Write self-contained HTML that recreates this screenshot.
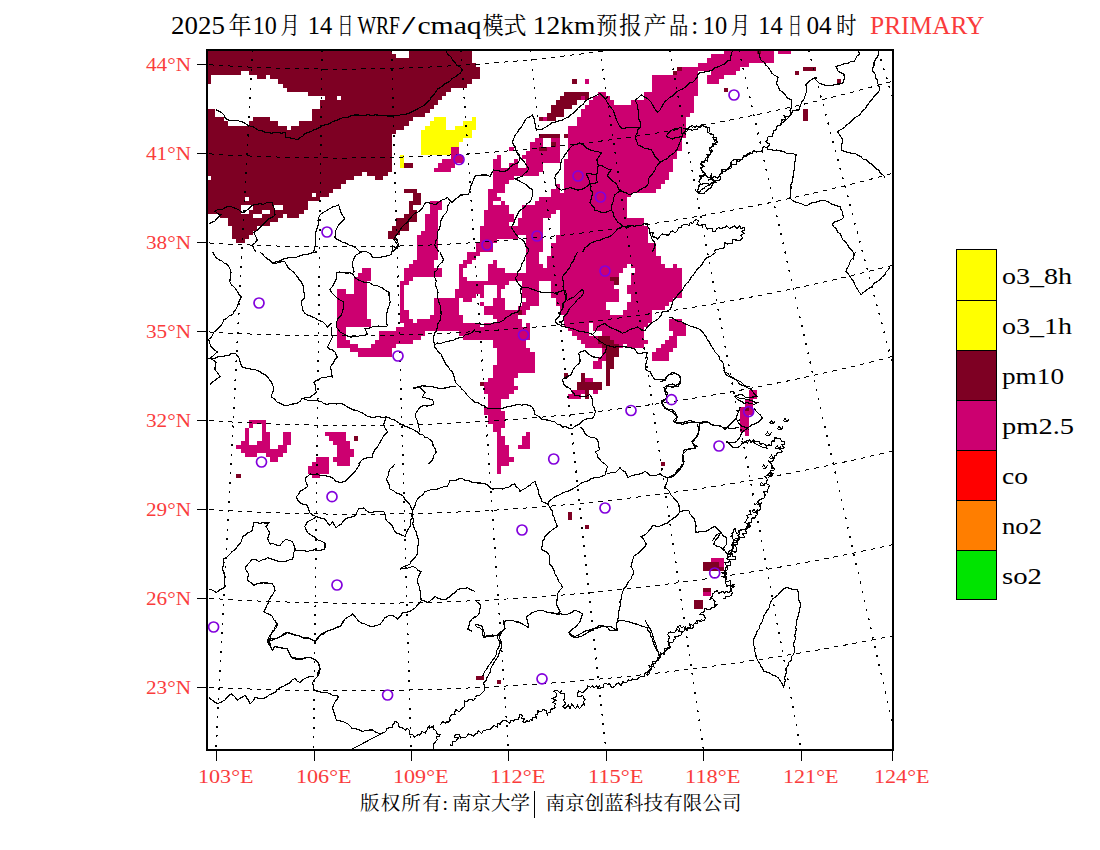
<!DOCTYPE html>
<html lang="zh"><head><meta charset="utf-8"><title>WRF/cmaq PRIMARY</title>
<style>
html,body{margin:0;padding:0;background:#fff}
body{width:1100px;height:850px;overflow:hidden}
svg{display:block}
text{font-family:"Liberation Serif","Noto Serif CJK SC","Noto Sans CJK SC",serif}
.ax{fill:#fa3c3c;font-size:19px}
.lg{fill:#000;font-size:23.5px}
</style></head><body>
<svg width="1100" height="850" viewBox="0 0 1100 850">
<rect width="1100" height="850" fill="#fff"/>
<defs><clipPath id="mapclip"><rect x="207" y="49.5" width="685.5" height="700"/></clipPath></defs>
<g clip-path="url(#mapclip)" shape-rendering="crispEdges">
<path fill="#7e0023" d="M207.0 50.0H391.8V54.2H207.0ZM408.6 50.0H471.6V54.2H408.6ZM757.2 50.0H761.4V54.2H757.2ZM207.0 54.2H396.0V58.4H207.0ZM408.6 54.2H471.6V58.4H408.6ZM207.0 58.4H471.6V62.6H207.0ZM207.0 62.6H475.8V66.8H207.0ZM207.0 66.8H480.0V71.0H207.0ZM677.4 66.8H681.6V71.0H677.4ZM803.4 66.8H816.0V71.0H803.4ZM207.0 71.0H240.6V75.2H207.0ZM249.0 71.0H480.0V75.2H249.0ZM673.2 71.0H677.4V75.2H673.2ZM795.0 71.0H799.2V75.2H795.0ZM207.0 75.2H211.2V79.4H207.0ZM257.4 75.2H265.8V79.4H257.4ZM270.0 75.2H480.0V79.4H270.0ZM207.0 79.4H211.2V83.6H207.0ZM278.4 79.4H471.6V83.6H278.4ZM572.4 79.4H576.6V83.6H572.4ZM837.0 79.4H841.2V83.6H837.0ZM282.6 83.6H467.4V87.8H282.6ZM286.8 87.8H450.6V92.0H286.8ZM723.6 87.8H727.8V92.0H723.6ZM307.8 92.0H446.4V96.2H307.8ZM564.0 92.0H589.2V96.2H564.0ZM324.6 96.2H337.2V100.4H324.6ZM341.4 96.2H442.2V100.4H341.4ZM559.8 96.2H580.8V100.4H559.8ZM585.0 96.2H589.2V100.4H585.0ZM320.4 100.4H438.0V104.6H320.4ZM555.6 100.4H576.6V104.6H555.6ZM320.4 104.6H433.8V108.8H320.4ZM551.4 104.6H572.4V108.8H551.4ZM207.0 108.8H215.4V113.0H207.0ZM312.0 108.8H429.6V113.0H312.0ZM551.4 108.8H564.0V113.0H551.4ZM803.4 108.8H807.6V113.0H803.4ZM207.0 113.0H215.4V117.2H207.0ZM312.0 113.0H425.4V117.2H312.0ZM547.2 113.0H564.0V117.2H547.2ZM803.4 113.0H807.6V117.2H803.4ZM207.0 117.2H223.8V121.4H207.0ZM253.2 117.2H270.0V121.4H253.2ZM312.0 117.2H412.8V121.4H312.0ZM538.8 117.2H543.0V121.4H538.8ZM547.2 117.2H555.6V121.4H547.2ZM803.4 117.2H807.6V121.4H803.4ZM207.0 121.4H228.0V125.6H207.0ZM249.0 121.4H278.4V125.6H249.0ZM299.4 121.4H408.6V125.6H299.4ZM207.0 125.6H286.8V129.8H207.0ZM291.0 125.6H404.4V129.8H291.0ZM207.0 129.8H396.0V134.0H207.0ZM207.0 134.0H391.8V138.2H207.0ZM538.8 134.0H559.8V138.2H538.8ZM564.0 134.0H568.2V138.2H564.0ZM207.0 138.2H391.8V142.4H207.0ZM207.0 142.4H391.8V146.6H207.0ZM551.4 142.4H555.6V146.6H551.4ZM207.0 146.6H391.8V150.8H207.0ZM538.8 146.6H547.2V150.8H538.8ZM207.0 150.8H391.8V155.0H207.0ZM207.0 155.0H391.8V159.2H207.0ZM207.0 159.2H391.8V163.4H207.0ZM207.0 163.4H391.8V167.6H207.0ZM404.4 163.4H412.8V167.6H404.4ZM207.0 167.6H391.8V171.8H207.0ZM207.0 171.8H362.4V176.0H207.0ZM366.6 171.8H387.6V176.0H366.6ZM211.2 176.0H354.0V180.2H211.2ZM375.0 176.0H383.4V180.2H375.0ZM207.0 180.2H345.6V184.4H207.0ZM207.0 184.4H341.4V188.6H207.0ZM207.0 188.6H333.0V192.8H207.0ZM404.4 188.6H417.0V192.8H404.4ZM207.0 192.8H312.0V197.0H207.0ZM316.2 192.8H328.8V197.0H316.2ZM412.8 192.8H421.2V197.0H412.8ZM207.0 197.0H244.8V201.2H207.0ZM249.0 197.0H320.4V201.2H249.0ZM412.8 197.0H421.2V201.2H412.8ZM207.0 201.2H307.8V205.4H207.0ZM408.6 201.2H421.2V205.4H408.6ZM207.0 205.4H240.6V209.6H207.0ZM253.2 205.4H274.2V209.6H253.2ZM282.6 205.4H307.8V209.6H282.6ZM408.6 205.4H412.8V209.6H408.6ZM207.0 209.6H240.6V213.8H207.0ZM249.0 209.6H261.6V213.8H249.0ZM270.0 209.6H303.6V213.8H270.0ZM408.6 209.6H417.0V213.8H408.6ZM219.6 213.8H253.2V218.0H219.6ZM261.6 213.8H282.6V218.0H261.6ZM286.8 213.8H299.4V218.0H286.8ZM404.4 213.8H417.0V218.0H404.4ZM228.0 218.0H278.4V222.2H228.0ZM396.0 218.0H417.0V222.2H396.0ZM228.0 222.2H270.0V226.4H228.0ZM396.0 222.2H408.6V226.4H396.0ZM232.2 226.4H257.4V230.6H232.2ZM391.8 226.4H408.6V230.6H391.8ZM232.2 230.6H253.2V234.8H232.2ZM387.6 230.6H400.2V234.8H387.6ZM232.2 234.8H249.0V239.0H232.2ZM387.6 234.8H396.0V239.0H387.6ZM236.4 239.0H244.8V243.2H236.4ZM610.2 276.8H618.6V281.0H610.2ZM614.4 281.0H618.6V285.2H614.4ZM517.8 310.4H522.0V314.6H517.8ZM597.6 335.6H610.2V339.8H597.6ZM597.6 339.8H614.4V344.0H597.6ZM601.8 344.0H618.6V348.2H601.8ZM606.0 348.2H618.6V352.4H606.0ZM606.0 352.4H618.6V356.6H606.0ZM606.0 356.6H614.4V360.8H606.0ZM606.0 360.8H614.4V365.0H606.0ZM606.0 365.0H614.4V369.2H606.0ZM606.0 369.2H610.2V373.4H606.0ZM564.0 373.4H568.2V377.6H564.0ZM580.8 373.4H585.0V377.6H580.8ZM606.0 373.4H610.2V377.6H606.0ZM580.8 377.6H585.0V381.8H580.8ZM606.0 377.6H610.2V381.8H606.0ZM480.0 381.8H484.2V386.0H480.0ZM576.6 381.8H601.8V386.0H576.6ZM606.0 381.8H610.2V386.0H606.0ZM576.6 386.0H601.8V390.2H576.6ZM585.0 390.2H589.2V394.4H585.0ZM585.0 394.4H589.2V398.6H585.0ZM744.6 407.0H748.8V411.2H744.6ZM354.0 436.4H358.2V440.6H354.0ZM660.6 461.6H664.8V465.8H660.6ZM236.4 474.2H240.6V478.4H236.4ZM568.2 512.0H572.4V516.2H568.2ZM568.2 516.2H572.4V520.4H568.2ZM585.0 524.6H589.2V528.8H585.0ZM702.6 562.4H719.4V566.6H702.6ZM702.6 566.6H723.6V570.8H702.6ZM702.6 587.6H711.0V591.8H702.6ZM694.2 600.2H702.6V604.4H694.2ZM694.2 604.4H702.6V608.6H694.2ZM475.8 675.8H484.2V680.0H475.8ZM496.8 680.0H501.0V684.2H496.8Z"/>
<path fill="#cc0070" d="M723.6 50.0H757.2V54.2H723.6ZM761.4 50.0H774.0V54.2H761.4ZM778.2 50.0H790.8V54.2H778.2ZM711.0 54.2H774.0V58.4H711.0ZM706.8 58.4H774.0V62.6H706.8ZM698.4 62.6H748.8V66.8H698.4ZM681.6 66.8H740.4V71.0H681.6ZM677.4 71.0H698.4V75.2H677.4ZM711.0 71.0H736.2V75.2H711.0ZM652.2 75.2H698.4V79.4H652.2ZM706.8 75.2H723.6V79.4H706.8ZM585.0 79.4H589.2V83.6H585.0ZM652.2 79.4H698.4V83.6H652.2ZM706.8 79.4H719.4V83.6H706.8ZM652.2 83.6H698.4V87.8H652.2ZM652.2 87.8H698.4V92.0H652.2ZM597.6 92.0H606.0V96.2H597.6ZM643.8 92.0H698.4V96.2H643.8ZM580.8 96.2H585.0V100.4H580.8ZM593.4 96.2H610.2V100.4H593.4ZM643.8 96.2H694.2V100.4H643.8ZM589.2 100.4H614.4V104.6H589.2ZM631.2 100.4H694.2V104.6H631.2ZM585.0 104.6H694.2V108.8H585.0ZM580.8 108.8H694.2V113.0H580.8ZM580.8 113.0H690.0V117.2H580.8ZM543.0 117.2H547.2V121.4H543.0ZM576.6 117.2H685.8V121.4H576.6ZM576.6 121.4H685.8V125.6H576.6ZM568.2 125.6H685.8V129.8H568.2ZM568.2 129.8H685.8V134.0H568.2ZM568.2 134.0H685.8V138.2H568.2ZM534.6 138.2H543.0V142.4H534.6ZM551.4 138.2H559.8V142.4H551.4ZM568.2 138.2H681.6V142.4H568.2ZM530.4 142.4H543.0V146.6H530.4ZM555.6 142.4H559.8V146.6H555.6ZM568.2 142.4H681.6V146.6H568.2ZM450.6 146.6H459.0V150.8H450.6ZM509.4 146.6H513.6V150.8H509.4ZM530.4 146.6H538.8V150.8H530.4ZM547.2 146.6H559.8V150.8H547.2ZM568.2 146.6H681.6V150.8H568.2ZM450.6 150.8H459.0V155.0H450.6ZM526.2 150.8H559.8V155.0H526.2ZM568.2 150.8H677.4V155.0H568.2ZM450.6 155.0H463.2V159.2H450.6ZM496.8 155.0H501.0V159.2H496.8ZM522.0 155.0H559.8V159.2H522.0ZM568.2 155.0H677.4V159.2H568.2ZM442.2 159.2H463.2V163.4H442.2ZM492.6 159.2H501.0V163.4H492.6ZM513.6 159.2H517.8V163.4H513.6ZM526.2 159.2H559.8V163.4H526.2ZM564.0 159.2H673.2V163.4H564.0ZM438.0 163.4H454.8V167.6H438.0ZM492.6 163.4H501.0V167.6H492.6ZM509.4 163.4H517.8V167.6H509.4ZM526.2 163.4H543.0V167.6H526.2ZM564.0 163.4H673.2V167.6H564.0ZM433.8 167.6H450.6V171.8H433.8ZM492.6 167.6H543.0V171.8H492.6ZM564.0 167.6H673.2V171.8H564.0ZM492.6 171.8H538.8V176.0H492.6ZM564.0 171.8H669.0V176.0H564.0ZM492.6 176.0H513.6V180.2H492.6ZM564.0 176.0H669.0V180.2H564.0ZM492.6 180.2H509.4V184.4H492.6ZM564.0 180.2H664.8V184.4H564.0ZM492.6 184.4H505.2V188.6H492.6ZM555.6 184.4H559.8V188.6H555.6ZM564.0 184.4H660.6V188.6H564.0ZM488.4 188.6H505.2V192.8H488.4ZM551.4 188.6H559.8V192.8H551.4ZM564.0 188.6H656.4V192.8H564.0ZM488.4 192.8H496.8V197.0H488.4ZM551.4 192.8H631.2V197.0H551.4ZM488.4 197.0H501.0V201.2H488.4ZM538.8 197.0H627.0V201.2H538.8ZM429.6 201.2H442.2V205.4H429.6ZM488.4 201.2H492.6V205.4H488.4ZM501.0 201.2H505.2V205.4H501.0ZM534.6 201.2H627.0V205.4H534.6ZM429.6 205.4H442.2V209.6H429.6ZM488.4 205.4H509.4V209.6H488.4ZM522.0 205.4H627.0V209.6H522.0ZM429.6 209.6H438.0V213.8H429.6ZM484.2 209.6H509.4V213.8H484.2ZM522.0 209.6H555.6V213.8H522.0ZM559.8 209.6H627.0V213.8H559.8ZM425.4 213.8H438.0V218.0H425.4ZM484.2 213.8H513.6V218.0H484.2ZM522.0 213.8H551.4V218.0H522.0ZM559.8 213.8H627.0V218.0H559.8ZM425.4 218.0H438.0V222.2H425.4ZM484.2 218.0H513.6V222.2H484.2ZM517.8 218.0H543.0V222.2H517.8ZM559.8 218.0H643.8V222.2H559.8ZM425.4 222.2H438.0V226.4H425.4ZM484.2 222.2H509.4V226.4H484.2ZM517.8 222.2H543.0V226.4H517.8ZM559.8 222.2H643.8V226.4H559.8ZM425.4 226.4H438.0V230.6H425.4ZM480.0 226.4H543.0V230.6H480.0ZM559.8 226.4H648.0V230.6H559.8ZM421.2 230.6H438.0V234.8H421.2ZM480.0 230.6H543.0V234.8H480.0ZM559.8 230.6H648.0V234.8H559.8ZM417.0 234.8H438.0V239.0H417.0ZM480.0 234.8H517.8V239.0H480.0ZM526.2 234.8H543.0V239.0H526.2ZM555.6 234.8H648.0V239.0H555.6ZM417.0 239.0H438.0V243.2H417.0ZM480.0 239.0H496.8V243.2H480.0ZM526.2 239.0H543.0V243.2H526.2ZM555.6 239.0H648.0V243.2H555.6ZM417.0 243.2H438.0V247.4H417.0ZM475.8 243.2H492.6V247.4H475.8ZM526.2 243.2H543.0V247.4H526.2ZM551.4 243.2H656.4V247.4H551.4ZM417.0 247.4H438.0V251.6H417.0ZM475.8 247.4H492.6V251.6H475.8ZM526.2 247.4H543.0V251.6H526.2ZM551.4 247.4H656.4V251.6H551.4ZM417.0 251.6H438.0V255.8H417.0ZM467.4 251.6H480.0V255.8H467.4ZM526.2 251.6H538.8V255.8H526.2ZM551.4 251.6H656.4V255.8H551.4ZM417.0 255.8H438.0V260.0H417.0ZM467.4 255.8H475.8V260.0H467.4ZM526.2 255.8H538.8V260.0H526.2ZM547.2 255.8H660.6V260.0H547.2ZM412.8 260.0H433.8V264.2H412.8ZM463.2 260.0H471.6V264.2H463.2ZM492.6 260.0H496.8V264.2H492.6ZM526.2 260.0H538.8V264.2H526.2ZM547.2 260.0H660.6V264.2H547.2ZM408.6 264.2H433.8V268.4H408.6ZM459.0 264.2H467.4V268.4H459.0ZM488.4 264.2H496.8V268.4H488.4ZM526.2 264.2H543.0V268.4H526.2ZM547.2 264.2H627.0V268.4H547.2ZM631.2 264.2H664.8V268.4H631.2ZM673.2 264.2H677.4V268.4H673.2ZM362.4 268.4H370.8V272.6H362.4ZM404.4 268.4H442.2V272.6H404.4ZM459.0 268.4H463.2V272.6H459.0ZM488.4 268.4H505.2V272.6H488.4ZM526.2 268.4H622.8V272.6H526.2ZM635.4 268.4H681.6V272.6H635.4ZM358.2 272.6H370.8V276.8H358.2ZM404.4 272.6H442.2V276.8H404.4ZM459.0 272.6H463.2V276.8H459.0ZM488.4 272.6H618.6V276.8H488.4ZM631.2 272.6H681.6V276.8H631.2ZM354.0 276.8H370.8V281.0H354.0ZM404.4 276.8H412.8V281.0H404.4ZM459.0 276.8H467.4V281.0H459.0ZM488.4 276.8H610.2V281.0H488.4ZM631.2 276.8H681.6V281.0H631.2ZM354.0 281.0H366.6V285.2H354.0ZM400.2 281.0H408.6V285.2H400.2ZM459.0 281.0H509.4V285.2H459.0ZM522.0 281.0H538.8V285.2H522.0ZM551.4 281.0H614.4V285.2H551.4ZM631.2 281.0H681.6V285.2H631.2ZM354.0 285.2H366.6V289.4H354.0ZM400.2 285.2H404.4V289.4H400.2ZM459.0 285.2H484.2V289.4H459.0ZM496.8 285.2H505.2V289.4H496.8ZM522.0 285.2H538.8V289.4H522.0ZM551.4 285.2H614.4V289.4H551.4ZM627.0 285.2H681.6V289.4H627.0ZM337.2 289.4H345.6V293.6H337.2ZM354.0 289.4H366.6V293.6H354.0ZM400.2 289.4H404.4V293.6H400.2ZM454.8 289.4H484.2V293.6H454.8ZM496.8 289.4H501.0V293.6H496.8ZM522.0 289.4H538.8V293.6H522.0ZM551.4 289.4H618.6V293.6H551.4ZM627.0 289.4H681.6V293.6H627.0ZM337.2 293.6H366.6V297.8H337.2ZM400.2 293.6H404.4V297.8H400.2ZM454.8 293.6H475.8V297.8H454.8ZM480.0 293.6H484.2V297.8H480.0ZM496.8 293.6H501.0V297.8H496.8ZM522.0 293.6H538.8V297.8H522.0ZM551.4 293.6H618.6V297.8H551.4ZM631.2 293.6H681.6V297.8H631.2ZM337.2 297.8H366.6V302.0H337.2ZM400.2 297.8H404.4V302.0H400.2ZM433.8 297.8H459.0V302.0H433.8ZM463.2 297.8H471.6V302.0H463.2ZM492.6 297.8H505.2V302.0H492.6ZM526.2 297.8H538.8V302.0H526.2ZM555.6 297.8H618.6V302.0H555.6ZM631.2 297.8H673.2V302.0H631.2ZM337.2 302.0H366.6V306.2H337.2ZM400.2 302.0H404.4V306.2H400.2ZM433.8 302.0H459.0V306.2H433.8ZM480.0 302.0H484.2V306.2H480.0ZM492.6 302.0H505.2V306.2H492.6ZM522.0 302.0H538.8V306.2H522.0ZM555.6 302.0H606.0V306.2H555.6ZM627.0 302.0H669.0V306.2H627.0ZM337.2 306.2H366.6V310.4H337.2ZM400.2 306.2H404.4V310.4H400.2ZM433.8 306.2H459.0V310.4H433.8ZM484.2 306.2H505.2V310.4H484.2ZM517.8 306.2H530.4V310.4H517.8ZM559.8 306.2H606.0V310.4H559.8ZM627.0 306.2H664.8V310.4H627.0ZM337.2 310.4H366.6V314.6H337.2ZM400.2 310.4H408.6V314.6H400.2ZM433.8 310.4H459.0V314.6H433.8ZM484.2 310.4H517.8V314.6H484.2ZM522.0 310.4H526.2V314.6H522.0ZM559.8 310.4H610.2V314.6H559.8ZM622.8 310.4H652.2V314.6H622.8ZM337.2 314.6H366.6V318.8H337.2ZM400.2 314.6H408.6V318.8H400.2ZM429.6 314.6H463.2V318.8H429.6ZM492.6 314.6H517.8V318.8H492.6ZM564.0 314.6H652.2V318.8H564.0ZM337.2 318.8H370.8V323.0H337.2ZM400.2 318.8H412.8V323.0H400.2ZM417.0 318.8H463.2V323.0H417.0ZM496.8 318.8H522.0V323.0H496.8ZM564.0 318.8H652.2V323.0H564.0ZM669.0 318.8H681.6V323.0H669.0ZM337.2 323.0H370.8V327.2H337.2ZM404.4 323.0H480.0V327.2H404.4ZM484.2 323.0H522.0V327.2H484.2ZM526.2 323.0H530.4V327.2H526.2ZM564.0 323.0H589.2V327.2H564.0ZM593.4 323.0H648.0V327.2H593.4ZM669.0 323.0H685.8V327.2H669.0ZM337.2 327.2H345.6V331.4H337.2ZM396.0 327.2H530.4V331.4H396.0ZM568.2 327.2H589.2V331.4H568.2ZM593.4 327.2H643.8V331.4H593.4ZM669.0 327.2H685.8V331.4H669.0ZM337.2 331.4H345.6V335.6H337.2ZM379.2 331.4H425.4V335.6H379.2ZM459.0 331.4H530.4V335.6H459.0ZM572.4 331.4H589.2V335.6H572.4ZM601.8 331.4H643.8V335.6H601.8ZM673.2 331.4H685.8V335.6H673.2ZM337.2 335.6H345.6V339.8H337.2ZM379.2 335.6H421.2V339.8H379.2ZM463.2 335.6H530.4V339.8H463.2ZM576.6 335.6H597.6V339.8H576.6ZM610.2 335.6H643.8V339.8H610.2ZM669.0 335.6H677.4V339.8H669.0ZM337.2 339.8H349.8V344.0H337.2ZM375.0 339.8H412.8V344.0H375.0ZM492.6 339.8H526.2V344.0H492.6ZM580.8 339.8H597.6V344.0H580.8ZM614.4 339.8H648.0V344.0H614.4ZM664.8 339.8H677.4V344.0H664.8ZM337.2 344.0H358.2V348.2H337.2ZM370.8 344.0H396.0V348.2H370.8ZM492.6 344.0H526.2V348.2H492.6ZM585.0 344.0H601.8V348.2H585.0ZM618.6 344.0H622.8V348.2H618.6ZM627.0 344.0H643.8V348.2H627.0ZM660.6 344.0H677.4V348.2H660.6ZM349.8 348.2H391.8V352.4H349.8ZM496.8 348.2H530.4V352.4H496.8ZM601.8 348.2H606.0V352.4H601.8ZM656.4 348.2H673.2V352.4H656.4ZM358.2 352.4H391.8V356.6H358.2ZM496.8 352.4H534.6V356.6H496.8ZM601.8 352.4H606.0V356.6H601.8ZM652.2 352.4H669.0V356.6H652.2ZM496.8 356.6H534.6V360.8H496.8ZM597.6 356.6H606.0V360.8H597.6ZM652.2 356.6H669.0V360.8H652.2ZM496.8 360.8H534.6V365.0H496.8ZM593.4 360.8H601.8V365.0H593.4ZM492.6 365.0H534.6V369.2H492.6ZM593.4 365.0H601.8V369.2H593.4ZM492.6 369.2H534.6V373.4H492.6ZM492.6 373.4H517.8V377.6H492.6ZM488.4 377.6H513.6V381.8H488.4ZM585.0 377.6H593.4V381.8H585.0ZM484.2 381.8H513.6V386.0H484.2ZM484.2 386.0H517.8V390.2H484.2ZM484.2 390.2H513.6V394.4H484.2ZM572.4 390.2H585.0V394.4H572.4ZM593.4 390.2H597.6V394.4H593.4ZM748.8 390.2H757.2V394.4H748.8ZM488.4 394.4H509.4V398.6H488.4ZM568.2 394.4H580.8V398.6H568.2ZM748.8 394.4H757.2V398.6H748.8ZM488.4 398.6H501.0V402.8H488.4ZM744.6 398.6H753.0V402.8H744.6ZM488.4 402.8H501.0V407.0H488.4ZM744.6 402.8H753.0V407.0H744.6ZM484.2 407.0H501.0V411.2H484.2ZM740.4 407.0H744.6V411.2H740.4ZM748.8 407.0H753.0V411.2H748.8ZM484.2 411.2H505.2V415.4H484.2ZM740.4 411.2H753.0V415.4H740.4ZM488.4 415.4H505.2V419.6H488.4ZM740.4 415.4H748.8V419.6H740.4ZM249.0 419.6H265.8V423.8H249.0ZM488.4 419.6H505.2V423.8H488.4ZM740.4 419.6H748.8V423.8H740.4ZM249.0 423.8H253.2V428.0H249.0ZM261.6 423.8H265.8V428.0H261.6ZM492.6 423.8H505.2V428.0H492.6ZM740.4 423.8H748.8V428.0H740.4ZM244.8 428.0H249.0V432.2H244.8ZM261.6 428.0H265.8V432.2H261.6ZM492.6 428.0H501.0V432.2H492.6ZM740.4 428.0H748.8V432.2H740.4ZM244.8 432.2H249.0V436.4H244.8ZM261.6 432.2H270.0V436.4H261.6ZM282.6 432.2H291.0V436.4H282.6ZM324.6 432.2H345.6V436.4H324.6ZM496.8 432.2H501.0V436.4H496.8ZM526.2 432.2H530.4V436.4H526.2ZM744.6 432.2H748.8V436.4H744.6ZM244.8 436.4H249.0V440.6H244.8ZM261.6 436.4H270.0V440.6H261.6ZM282.6 436.4H291.0V440.6H282.6ZM328.8 436.4H345.6V440.6H328.8ZM496.8 436.4H505.2V440.6H496.8ZM522.0 436.4H530.4V440.6H522.0ZM240.6 440.6H249.0V444.8H240.6ZM257.4 440.6H270.0V444.8H257.4ZM282.6 440.6H291.0V444.8H282.6ZM333.0 440.6H349.8V444.8H333.0ZM496.8 440.6H505.2V444.8H496.8ZM522.0 440.6H530.4V444.8H522.0ZM236.4 444.8H270.0V449.0H236.4ZM278.4 444.8H286.8V449.0H278.4ZM337.2 444.8H349.8V449.0H337.2ZM496.8 444.8H509.4V449.0H496.8ZM517.8 444.8H530.4V449.0H517.8ZM240.6 449.0H286.8V453.2H240.6ZM337.2 449.0H354.0V453.2H337.2ZM496.8 449.0H509.4V453.2H496.8ZM244.8 453.2H257.4V457.4H244.8ZM265.8 453.2H282.6V457.4H265.8ZM337.2 453.2H354.0V457.4H337.2ZM496.8 453.2H509.4V457.4H496.8ZM270.0 457.4H278.4V461.6H270.0ZM316.2 457.4H328.8V461.6H316.2ZM333.0 457.4H349.8V461.6H333.0ZM496.8 457.4H513.6V461.6H496.8ZM312.0 461.6H328.8V465.8H312.0ZM337.2 461.6H349.8V465.8H337.2ZM496.8 461.6H509.4V465.8H496.8ZM307.8 465.8H328.8V470.0H307.8ZM496.8 465.8H501.0V470.0H496.8ZM307.8 470.0H328.8V474.2H307.8ZM496.8 470.0H501.0V474.2H496.8ZM312.0 474.2H320.4V478.4H312.0ZM711.0 558.2H723.6V562.4H711.0ZM719.4 562.4H723.6V566.6H719.4ZM702.6 591.8H711.0V596.0H702.6Z"/>
<path fill="#ffff00" d="M433.8 117.2H446.4V121.4H433.8ZM471.6 117.2H475.8V121.4H471.6ZM429.6 121.4H446.4V125.6H429.6ZM463.2 121.4H475.8V125.6H463.2ZM425.4 125.6H446.4V129.8H425.4ZM454.8 125.6H475.8V129.8H454.8ZM421.2 129.8H471.6V134.0H421.2ZM421.2 134.0H471.6V138.2H421.2ZM421.2 138.2H463.2V142.4H421.2ZM421.2 142.4H459.0V146.6H421.2ZM421.2 146.6H450.6V150.8H421.2ZM421.2 150.8H450.6V155.0H421.2ZM400.2 155.0H404.4V159.2H400.2ZM400.2 159.2H404.4V163.4H400.2ZM400.2 163.4H404.4V167.6H400.2Z"/>
</g>
<g clip-path="url(#mapclip)" fill="none" stroke="#000" shape-rendering="crispEdges">
<path d="M216.2 110.0 L221.3 112.4 L223.8 114.6 L225.2 117.7 L227.7 119.9 L230.6 120.4 L233.8 120.4 L236.9 120.2 L240.0 121.3 L243.7 122.3 L246.7 124.5 L250.1 126.1 L253.3 126.9 L256.0 128.6 L258.8 130.5 L262.2 130.7 L265.1 132.4 L268.3 132.7 L271.7 133.2 L275.0 132.6 L278.3 132.3 L281.7 133.3 L285.0 132.3 L286.1 137.5 L290.1 138.0 L293.9 138.6 L297.5 139.8 L299.8 137.7 L302.8 136.2 L304.9 133.6 L308.1 132.6 L311.1 131.5 L313.9 129.8 L317.0 128.8 L319.9 127.3 L322.6 125.6 L325.5 124.6 L328.7 124.0 L331.4 122.4 L334.2 121.0 L337.2 120.1 L340.0 118.7 L342.9 117.7 L346.1 117.7 L349.1 116.8 L351.9 115.4 L355.0 115.0 L358.3 115.0 L361.7 115.6 L365.0 115.4 L368.3 114.7 L371.7 115.8 L375.0 114.8 L378.0 115.1 L381.0 115.9 L384.0 115.2 L387.0 116.0 L390.0 116.0 L393.5 116.0 L397.1 115.7 L400.5 114.9 L404.1 114.8 L407.5 113.7 L410.8 112.5 L413.8 110.8 L416.9 109.2 L420.0 107.5 L422.8 106.1 L425.4 104.3 L427.5 101.8 L430.0 100.1 L431.3 96.8 L434.0 94.6 L435.8 91.7 L437.7 88.9 L441.1 87.1 L444.0 84.3 L447.5 82.5 L450.2 81.0 L452.1 78.4 L455.0 77.2 L457.2 75.1 L459.9 73.6 L462.3 69.9 L460.3 67.2 L457.1 65.4 L454.9 62.6 L452.4 59.7 L450.5 56.3 L447.3 53.9 L446.2 50.5" stroke-width="1.15"/>
<path d="M313.8 252.0 L314.2 248.9 L315.1 245.8 L315.3 242.6 L315.8 239.5 L315.2 236.2 L315.8 233.1 L316.2 230.0 L317.6 227.1 L318.5 224.2 L318.0 220.9 L318.7 217.9 L319.9 215.0 L322.3 213.0 L325.0 211.6 L327.5 210.0 L330.2 208.4 L332.8 206.8 L335.9 206.1 L338.7 204.9 L339.9 208.8 L341.0 212.6 L342.9 215.8 L345.0 218.8 L342.4 221.1 L339.8 223.6 L337.7 226.4 L336.0 229.9 L335.4 233.7 L334.8 237.5 L337.2 239.6 L340.1 240.7 L342.5 242.5 L346.1 243.2 L349.1 245.2 L352.6 246.1 L355.4 247.6 L357.8 249.7 L360.1 251.9" stroke-width="1.15"/>
<path d="M208.8 223.8 L211.8 222.3 L214.9 221.1 L217.6 217.6 L221.1 214.9 L217.8 213.7 L215.0 211.3 L217.8 209.5 L221.2 209.8 L224.1 208.4 L226.8 206.7 L230.0 206.1 L232.9 207.3 L235.6 208.6 L238.5 209.5 L240.8 211.8 L243.7 212.7 L246.2 210.6 L248.7 208.7 L250.9 206.3 L253.6 204.8 L256.8 204.3 L260.0 203.8 L263.2 204.3 L266.2 202.8 L269.3 202.2 L272.5 202.7 L273.1 205.6 L274.3 208.6 L274.3 211.9 L275.2 215.0 L272.5 217.0 L269.5 218.4 L267.1 220.5 L264.8 222.8 L262.6 225.1 L259.7 227.7 L257.0 230.4 L253.7 232.4 L255.6 236.3 L257.4 240.1 L255.2 242.7 L252.6 245.1 L253.9 248.7 L256.0 252.1" stroke-width="1.15"/>
<path d="M392.5 252.0 L395.5 248.8 L397.6 245.1 L396.0 242.2 L393.8 239.9 L395.5 236.4 L397.9 233.3 L399.9 230.0 L402.0 227.0 L404.5 224.5 L407.4 222.4 L408.8 219.8 L411.1 217.7 L412.7 215.1 L415.0 213.3 L417.9 212.2 L420.1 210.2 L422.6 208.0 L424.0 204.9 L426.1 202.4 L429.3 202.9 L432.2 203.7 L435.0 204.9 L438.2 202.7 L441.4 200.2 L444.6 199.3 L447.5 197.5 L449.8 200.2 L452.4 202.6 L454.5 199.5 L457.7 197.7 L460.1 195.1 L464.4 194.8 L468.8 193.9 L470.0 190.0 L470.8 186.1 L472.6 182.5 L473.5 179.3 L475.1 176.3" stroke-width="1.15"/>
<path d="M450.0 202.5 L448.0 205.6 L447.7 209.2 L446.3 212.5 L443.6 215.5 L441.8 219.0 L440.1 222.6 L440.1 225.6 L439.6 228.6 L437.9 231.4 L437.5 234.4 L437.7 237.5 L435.8 241.1 L434.8 244.9 L436.7 248.6 L438.8 252.0" stroke-width="1.15"/>
<path d="M360.0 252.0 L362.7 251.1 L366.9 252.0 L370.8 253.8 L372.0 257.0 L378.0 257.7 L381.6 257.0 L385.3 256.4 L391.1 254.7 L392.4 250.5 L392.7 246.0 L394.8 247.3 L396.9 248.1 L399.0 245.2 L396.8 240.2 L394.7 239.4" stroke-width="1.15"/>
<path d="M475.0 176.2 L478.7 175.2 L482.5 175.0 L486.3 175.0 L490.0 176.4 L491.7 173.0 L493.7 170.0 L497.5 170.5 L501.2 171.5 L505.0 171.2 L507.9 169.7 L510.0 167.1 L512.5 165.0 L515.6 163.8 L518.7 162.3 L520.0 157.5 L517.7 154.0 L516.0 150.1 L514.8 146.0 L512.4 142.6 L513.7 138.7 L515.1 135.0 L517.2 132.6 L519.0 129.8 L521.3 127.5 L523.2 123.8 L525.1 120.1 L527.2 117.8 L530.1 116.7 L532.4 114.9 L534.1 118.6 L534.9 122.5 L535.6 126.3 L536.2 130.0 L539.3 129.6 L542.3 129.0 L545.0 127.5 L547.6 126.0 L550.0 124.2 L552.5 122.5 L555.9 122.0 L559.1 120.8 L562.5 120.0 L565.0 118.3 L567.9 117.3 L570.1 115.1 L572.9 113.4 L575.5 111.4 L577.4 108.7 L580.1 106.3 L583.0 104.3 L585.1 101.4 L588.5 98.9 L592.4 97.3 L596.2 95.5 L599.9 93.6 L602.8 96.0 L605.1 98.6 L606.9 101.8 L608.8 104.8 L611.1 107.6 L613.6 111.0 L614.9 115.0 L616.0 118.8 L617.7 122.4 L619.5 126.0 L622.3 128.9 L626.8 127.7 L631.3 127.7 L635.6 127.3 L640.0 127.5" stroke-width="1.15"/>
<path d="M640.0 127.5 L640.5 124.3 L639.9 121.2 L638.5 118.2 L638.7 115.0 L638.4 111.7 L637.7 108.4 L637.4 105.0 L634.9 100.0 L638.3 97.8 L641.1 94.8 L644.3 96.9 L647.5 98.7 L650.6 101.4 L652.6 104.9 L654.0 107.6 L655.8 110.0 L657.7 112.4 L659.8 110.4 L661.2 107.8 L662.7 105.1 L664.6 102.1 L667.2 99.7 L669.8 97.3 L672.8 96.0 L674.8 93.5 L677.1 91.4 L680.0 90.0 L682.9 88.9 L685.3 87.1 L687.4 84.9 L689.7 82.9 L692.9 82.2 L695.0 80.0 L696.9 77.7 L697.8 74.6 L699.8 72.4 L703.4 72.4 L706.7 71.5 L710.0 71.0 L712.9 69.9 L715.0 67.6 L718.9 66.7 L722.4 64.8 L725.3 63.8 L727.1 61.1 L730.1 60.1 L730.8 56.8 L731.4 53.6 L732.5 50.5" stroke-width="1.15"/>
<path d="M640.0 127.5 L637.7 130.1 L637.0 133.5 L635.2 136.3 L635.8 139.2 L637.1 142.0 L637.7 144.9 L641.5 146.4 L645.1 148.6 L648.2 148.9 L651.3 149.9 L653.4 153.0 L654.9 156.3 L657.8 159.2 L660.0 162.5 L663.5 160.2 L667.5 158.7 L669.5 156.1 L672.2 154.3 L674.9 152.3 L677.0 149.3 L678.4 145.9 L679.9 142.4 L681.2 138.7 L682.7 135.1 L681.3 131.4 L681.4 127.5 L678.1 128.2 L675.0 128.8 L671.6 130.2 L668.8 132.5 L666.2 136.2 L669.3 137.8 L672.4 139.0 L675.3 137.7 L678.5 137.6 L681.3 136.3" stroke-width="1.15"/>
<path d="M561.2 160.0 L563.3 157.6 L564.9 154.9 L566.7 152.4 L568.6 149.9 L570.8 147.1 L573.6 144.9 L577.0 144.4 L580.0 142.9 L583.5 145.1 L586.4 147.8 L589.1 149.5 L592.1 150.6 L595.2 151.3 L598.4 151.7 L601.3 152.9 L599.3 156.4 L596.8 159.5 L598.2 165.0 L597.7 168.3 L597.5 171.7 L596.5 175.0 L596.4 178.8 L597.5 182.5 L593.8 183.5 L590.0 183.5 L587.7 185.9 L585.0 187.6 L581.5 189.5 L577.5 190.1 L573.7 188.8 L570.0 187.5 L567.2 188.8 L564.2 189.2 L561.3 190.2 L558.5 188.4 L556.1 186.4 L555.5 181.9 L554.8 177.5 L556.0 174.6 L558.1 172.3 L559.9 169.9 L560.6 166.7 L560.9 163.3 L561.4 160.0" stroke-width="1.15"/>
<path d="M596.8 175.0 L593.3 174.3 L589.8 173.8 L586.3 173.6 L587.7 176.8 L589.0 179.8 L589.8 183.1" stroke-width="1.15"/>
<path d="M598.0 165.0 L601.7 165.7 L605.0 167.6 L608.0 169.0 L611.3 169.8 L608.9 172.8 L607.3 176.2 L609.9 178.5 L612.3 180.7 L614.9 182.6 L617.2 185.1 L618.3 188.4 L620.0 191.3 L617.2 192.7 L614.9 194.9 L613.7 197.9 L613.4 201.0 L612.1 203.8 L611.7 206.9 L611.2 210.0 L607.6 211.7 L603.8 212.7 L600.7 212.2 L597.9 211.0 L594.9 210.2 L593.8 207.2 L591.7 204.9 L590.1 202.5 L591.0 199.2 L591.9 195.9 L592.5 192.5 L590.7 189.8 L591.0 186.5 L589.6 183.7" stroke-width="1.15"/>
<path d="M512.5 142.5 L514.0 145.5 L515.4 148.5 L516.8 151.6 L519.1 154.2 L519.9 157.6 L522.5 160.1 L524.9 162.7 L526.9 165.7 L528.7 168.8 L527.0 171.6 L524.3 173.5 L522.3 176.1 L518.8 177.5 L515.0 178.8 L518.3 180.4 L521.5 182.3 L524.9 183.9 L527.4 186.0 L529.9 188.1 L532.6 189.8 L532.6 193.4 L532.1 196.7 L531.1 200.0 L529.2 202.2 L526.7 203.9 L525.0 206.6 L522.7 208.5 L520.1 210.1 L518.1 213.2 L516.4 216.5 L514.9 220.0 L513.4 223.9 L511.2 227.5 L513.0 230.0 L514.6 232.5 L516.4 234.9 L518.8 238.0 L522.4 239.6 L524.9 242.7 L525.6 245.9 L528.2 248.5 L528.8 252.0" stroke-width="1.15"/>
<path d="M660.0 162.5 L657.9 164.7 L656.0 167.1 L655.0 170.0 L652.8 173.4 L650.1 176.3 L648.5 179.0 L648.8 182.2 L647.5 185.0 L645.3 187.1 L642.5 188.3 L639.9 189.8 L636.9 192.2 L633.1 192.9 L630.0 195.0 L625.1 192.3 L620.0 191.2" stroke-width="1.15"/>
<path d="M611.2 210.0 L613.2 212.9 L613.8 216.5 L616.0 219.4 L617.7 222.4 L620.5 223.7 L622.5 226.2 L625.6 226.2 L628.8 225.9 L631.9 225.7 L635.0 226.2 L638.1 225.3 L641.4 225.5 L644.2 223.6 L647.5 223.9 L647.8 226.8 L649.8 229.4 L649.8 232.6 L650.9 235.8 L651.9 239.0 L654.1 241.8 L655.1 245.0 L653.9 248.6 L652.3 251.9" stroke-width="1.15"/>
<path d="M682.5 133.8 L684.5 132.4 L685.4 129.9 L687.4 128.7 L689.2 127.4 L690.9 126.0 L692.8 125.9 L695.1 128.0 L696.7 125.7 L699.9 127.8 L701.1 124.7 L703.4 125.0 L704.3 126.9 L706.7 126.5 L707.6 128.6 L707.5 131.9 L709.3 133.2 L711.1 134.5 L713.6 135.1 L712.8 137.6 L713.5 139.3 L716.2 140.0 L714.4 140.9 L716.0 144.2 L712.3 143.9 L712.4 146.1 L710.9 147.3 L709.7 149.1 L710.3 151.7 L710.4 154.1 L707.0 154.7 L708.0 157.5 L705.6 158.1 L705.1 159.9 L704.3 161.5 L702.2 162.3 L699.9 164.0 L703.0 166.4 L700.8 168.0 L701.5 170.0 L702.9 172.1 L705.1 173.6 L703.2 175.7 L701.2 176.2 L698.8 175.4 L700.8 177.5 L703.8 176.2 L705.4 174.6 L707.8 177.5 L709.8 177.7 L711.2 174.9 L711.4 177.7 L709.9 179.2 L708.0 180.4 L709.5 179.8 L711.5 179.1 L713.1 180.3 L714.8 180.9 L716.2 182.6 L713.3 182.9 L712.1 185.0 L711.3 187.6 L709.8 188.8 L708.0 189.2 L706.7 190.7 L705.2 191.8 L704.2 193.8 L702.1 193.8 L699.7 193.2 L697.3 192.9 L697.5 190.0 L698.7 188.3 L699.2 186.4 L700.1 184.4 L701.9 184.2 L703.7 183.6 L705.6 183.8 L707.5 183.7 L710.3 184.5 L711.6 183.0 L713.3 182.0 L712.7 177.6 L714.3 176.5 L717.7 178.2 L719.1 176.7 L720.2 174.6 L722.2 173.4 L721.7 169.9 L724.9 169.9 L727.8 169.7 L728.7 167.9 L730.1 166.4 L730.5 164.2 L731.3 161.7 L732.9 160.2 L734.9 159.5 L737.5 160.0 L739.5 159.8 L741.7 159.9 L742.7 158.1 L743.9 156.4 L746.3 156.6 L747.8 154.4 L750.0 153.8" stroke-width="1.15"/>
<path d="M650.0 232.5 L653.2 232.6 L652.4 236.8 L655.3 237.2 L657.5 239.0 L659.2 237.2 L660.8 235.1 L662.6 233.8 L664.9 234.7 L667.2 235.1 L669.2 234.9 L670.5 231.7 L672.5 231.0 L675.0 232.5 L676.8 231.6 L677.7 229.6 L678.7 227.7 L681.3 227.9 L682.0 225.7 L683.9 224.5 L686.2 224.2 L689.1 225.4 L690.1 222.7 L692.8 223.4 L694.1 220.7 L696.1 219.6 L698.5 220.9 L697.0 224.7 L699.8 225.2 L702.4 225.0 L705.0 224.5 L706.3 227.5 L707.7 229.0 L709.9 228.6 L712.0 228.7 L712.9 231.2 L714.8 231.8 L716.5 229.3 L718.2 227.7 L720.7 228.3 L722.9 227.9 L725.1 227.7 L726.8 225.8 L729.2 228.4 L731.1 227.9 L733.0 226.5 L734.9 225.8 L736.9 228.8 L739.5 226.0 L741.3 228.7 L743.8 227.1 L744.8 229.7 L742.0 231.3 L744.0 233.6 L740.6 235.2 L742.5 237.5 L741.5 239.7 L739.8 240.4 L737.6 240.1 L735.2 240.0 L732.7 239.5 L732.1 243.8 L729.7 243.5 L727.6 244.1 L724.6 242.7 L724.5 247.2 L722.8 248.5 L720.3 248.1 L718.7 249.4 L715.4 249.1 L714.6 251.6" stroke-width="1.15"/>
<path d="M622.5 226.2 L619.8 228.0 L617.0 229.8 L614.9 232.3 L612.7 234.4 L610.3 236.3 L607.4 237.3 L603.6 238.4 L600.1 240.2 L597.0 240.6 L594.2 241.9 L591.3 242.6 L588.3 245.2 L585.1 247.6 L582.7 252.1" stroke-width="1.15"/>
<path d="M758.0 51.0 L759.3 54.4 L760.1 58.0 L761.4 60.8 L764.5 62.3 L765.8 65.1 L768.4 67.4 L770.2 70.2 L771.9 73.1 L774.7 75.4 L778.0 77.0 L777.7 80.2 L776.0 83.0 L778.2 86.4 L779.8 90.1 L783.3 92.7 L786.0 96.0 L788.1 98.5 L791.1 99.8 L791.6 103.0 L791.9 106.0 L789.9 111.0" stroke-width="1.15"/>
<path d="M790.0 111.0 L790.8 113.7 L789.9 115.2 L788.7 116.7 L784.3 115.9 L786.0 119.1 L783.7 119.8 L781.1 120.1 L781.5 123.5 L780.3 125.3 L777.5 125.5 L776.4 127.3 L776.5 129.9 L773.6 130.2 L773.9 132.9 L772.3 134.2 L773.0 136.8 L769.0 136.3 L767.3 137.4 L767.8 139.9 L765.6 141.7 L769.8 144.3 L768.5 146.2 L767.0 148.0 L764.4 146.7 L762.6 147.5 L762.0 150.8 L760.1 151.3 L758.1 151.8 L756.0 152.0 L753.5 150.5 L752.1 153.4 L749.4 152.7 L747.5 154.0 L745.8 155.6 L743.8 155.9 L742.7 157.6 L742.0 159.7 L740.1 160.2 L738.9 161.6 L736.2 160.9 L736.6 164.7 L734.2 164.4 L731.8 164.0 L731.7 167.0 L730.7 168.7 L728.4 168.6 L726.3 169.3 L725.6 171.6 L721.9 170.9 L721.6 173.6 L719.1 174.2 L720.9 177.6 L720.7 179.6 L718.5 180.3 L716.0 181.0 L713.5 181.1 L712.1 183.2 L710.2 184.3 L708.8 185.6 L706.6 186.1 L705.0 187.1 L703.8 188.7 L701.2 189.5 L700.1 191.8 L699.4 194.4 L699.4 191.6 L696.8 191.2 L698.3 188.6 L698.8 185.9 L700.8 184.4 L699.1 181.5 L700.1 179.6 L701.7 177.9 L701.1 175.5 L705.1 174.6 L704.1 172.0 L701.8 170.5 L700.9 168.1 L703.7 166.4 L701.7 164.0 L701.6 161.9 L704.3 162.2 L705.4 160.6 L707.8 161.0 L707.7 157.5 L708.6 156.0 L710.8 154.5 L710.5 152.2 L712.7 151.6 L710.2 147.8 L712.2 147.0 L713.5 145.7 L713.3 143.5 L717.5 142.7 L716.1 140.0 L716.3 137.2 L713.0 137.4 L713.6 134.4 L710.9 134.0 L708.8 132.9 L709.6 129.7 L709.0 127.5 L705.5 127.3 L704.1 126.2 L702.1 125.8 L699.9 126.4 L698.3 127.6 L696.8 129.5 L694.2 129.4 L692.2 130.5 L689.9 129.2 L688.0 129.8 L686.3 131.9 L684.2 131.7" stroke-width="1.15"/>
<path d="M767.0 149.0 L770.3 149.2 L773.5 150.3 L776.8 150.0 L780.0 150.9 L783.3 151.3 L786.3 153.1 L789.6 153.5 L793.0 153.5 L796.0 154.8 L795.8 158.0 L795.1 161.0 L794.6 164.0 L795.0 167.1 L794.2 170.0 L793.2 172.9 L793.1 176.0 L792.8 179.1 L792.3 182.1 L790.8 184.9 L791.1 188.0 L790.6 191.3 L790.6 194.7 L790.0 198.0 L792.7 200.5 L795.9 202.2 L799.4 203.1 L802.8 204.2 L806.0 206.1 L809.2 204.2 L812.4 202.6 L816.1 202.2 L820.0 200.9 L824.0 200.1 L828.1 201.9 L831.9 204.2 L836.0 205.4 L840.1 206.8" stroke-width="1.15"/>
<path d="M858.5 51.0 L859.7 53.9 L857.0 56.0 L854.4 61.0 L850.8 61.4 L847.7 63.6 L844.0 63.9 L840.1 65.4 L836.0 66.5 L838.2 71.4 L841.2 72.7 L844.0 74.5 L844.3 79.0 L842.7 83.1 L840.0 84.0 L836.9 84.0 L834.0 84.8 L831.0 85.7 L828.0 85.7 L823.0 84.8 L818.6 82.8 L816.5 80.5 L814.3 78.1 L811.9 79.3 L808.5 82.0 L805.9 84.9 L806.9 90.0 L805.4 95.0 L804.2 98.7 L801.9 101.9 L800.1 106.1 L799.0 110.0 L795.9 110.0 L793.0 110.8 L791.1 114.1 L788.8 117.3 L786.0 120.0 L783.0 122.2 L780.0 124.5" stroke-width="1.15"/>
<path d="M878.8 51.6 L878.3 54.7 L877.0 57.4 L875.2 59.9 L873.9 62.6 L874.1 65.9 L872.3 68.5 L873.1 71.6 L875.2 74.1 L875.1 77.5 L877.3 80.1 L877.7 83.3 L878.9 86.2 L880.0 89.2 L878.5 91.7 L876.4 94.0 L874.3 96.1 L872.7 98.7 L870.5 100.8 L868.9 103.3 L867.0 105.7 L865.6 108.5 L863.0 110.2 L861.3 112.7 L859.5 115.1 L856.7 116.6 L854.2 118.4 L852.1 120.7 L849.9 122.9 L847.2 124.4 L845.1 126.8 L842.6 128.6 L839.9 130.1 L837.5 132.0 L839.8 135.1 L842.0 138.3 L842.5 142.3 L841.3 146.1 L841.5 150.0 L844.5 151.4 L847.9 152.5 L851.4 153.1 L854.9 153.4 L858.1 155.2 L861.0 156.8 L863.4 159.4 L866.9 160.1 L869.2 162.9 L872.2 164.4 L874.2 166.6 L876.3 168.9 L879.1 170.3 L880.4 173.4 L883.1 175.0 L885.1 177.3" stroke-width="1.15"/>
<path d="M840.0 205.6 L840.3 208.8 L842.4 211.3 L842.5 214.5 L843.7 217.3 L841.3 219.5 L838.2 220.7 L834.9 221.8 L832.3 223.9 L833.5 226.7 L836.2 228.7 L837.4 231.8 L840.1 233.8 L841.5 236.7 L842.8 239.7 L845.3 241.8 L847.3 244.2 L848.8 247.0 L850.8 249.5 L853.0 251.8 L854.3 254.7 L853.1 260.0" stroke-width="1.15"/>
<path d="M741.6 441.3 L743.5 443.4 L745.5 442.2 L747.4 443.2 L749.3 439.7 L751.3 442.7 L753.2 439.5 L755.1 441.5 L757.1 441.5 L759.2 441.3 L760.4 444.3 L762.8 443.5 L764.7 444.3 L766.2 446.3 L768.8 444.7 L771.6 445.6 L771.7 443.1 L772.2 441.0 L774.8 441.1 L774.3 438.0 L776.9 438.0 L778.2 438.8 L780.6 438.8 L781.6 441.5 L784.2 441.3 L784.9 443.8 L781.7 444.8 L784.2 447.8 L780.1 448.6 L782.0 451.4 L780.1 452.9 L777.3 452.1 L776.7 454.8 L774.9 455.6 L774.1 458.1 L773.3 460.4 L771.6 461.4 L768.9 461.1 L769.4 462.5 L771.2 463.6 L772.1 465.3 L771.8 468.0 L774.9 468.1 L773.7 470.7 L770.8 470.4 L771.1 474.0 L769.5 475.4 L766.8 475.4 L765.2 476.6 L766.1 477.8 L767.3 479.6 L766.4 482.0 L767.0 484.0 L769.4 485.3 L768.5 487.8 L767.7 489.4 L767.9 492.0 L763.6 491.5 L765.3 495.0 L764.5 496.9 L763.7 498.7 L760.8 499.2 L758.7 500.8 L758.7 502.8 L759.9 505.2 L760.1 507.3 L760.8 509.5 L757.4 510.7 L757.3 512.7 L757.3 514.8 L755.4 515.9 L755.0 518.0 L751.9 518.1 L751.5 520.3 L751.6 522.7 L748.6 522.9 L750.7 526.9 L747.7 527.0 L747.0 528.9 L745.8 530.4 L746.4 533.1 L742.3 533.5 L744.7 537.0 L741.5 537.9 L739.2 536.4 L738.2 540.6 L736.2 540.8 L733.8 539.7 L733.5 541.8 L732.4 543.6 L731.3 545.4 L733.9 547.9 L732.2 549.6 L731.8 551.9 L732.0 554.4 L727.4 554.5 L727.7 557.1" stroke-width="1.15"/>
<path d="M855.6 252.0 L853.9 254.6 L853.5 257.9 L851.0 260.0 L849.7 262.9 L848.8 265.8 L847.0 268.4 L846.0 271.3 L848.0 273.7 L849.9 276.1 L851.5 278.8 L853.4 281.2 L854.7 284.1 L855.9 287.0 L857.7 289.5 L859.2 292.2 L861.3 294.6 L863.5 292.3 L866.1 290.7 L868.3 288.6 L871.0 287.1 L873.0 284.9 L875.1 282.6 L877.8 281.2 L880.4 279.6 L882.0 276.8 L884.7 275.3 L885.9 272.1 L888.1 269.8 L890.3 267.4" stroke-width="1.15"/>
<path d="M769.4 423.2 L771.4 420.5 L773.3 423.2 L775.2 420.9 L773.7 423.9 L770.2 423.6" stroke-width="1"/>
<path d="M777.2 429.0 L779.1 426.3 L781.0 429.0 L783.0 426.7 L781.4 429.7 L777.9 429.4" stroke-width="1"/>
<path d="M783.0 421.2 L784.9 418.5 L786.8 421.2 L788.8 418.9 L787.2 422.0 L783.7 421.6" stroke-width="1"/>
<path d="M765.6 434.8 L767.5 432.1 L769.4 434.8 L771.4 432.4 L769.8 435.5 L766.3 435.2" stroke-width="1"/>
<path d="M775.2 448.3 L777.2 445.6 L779.1 448.3 L781.0 446.0 L779.5 449.1 L776.0 448.7" stroke-width="1"/>
<path d="M769.4 458.0 L771.4 455.2 L773.3 458.0 L775.2 455.6 L773.7 458.7 L770.2 458.3" stroke-width="1"/>
<path d="M761.7 467.6 L763.6 464.9 L765.6 467.6 L767.5 465.3 L766.0 468.4 L762.5 468.0" stroke-width="1"/>
<path d="M767.5 475.3 L769.4 472.6 L771.4 475.3 L773.3 473.0 L771.8 476.1 L768.3 475.7" stroke-width="1"/>
<path d="M759.8 485.0 L761.7 482.3 L763.6 485.0 L765.6 482.7 L764.0 485.8 L760.5 485.4" stroke-width="1"/>
<path d="M755.9 504.3 L757.8 501.6 L759.8 504.3 L761.7 502.0 L760.2 505.1 L756.7 504.7" stroke-width="1"/>
<path d="M752.0 512.0 L754.0 509.3 L755.9 512.0 L757.8 509.7 L756.3 512.8 L752.8 512.4" stroke-width="1"/>
<path d="M212.5 252.0 L214.3 254.7 L216.1 257.5 L218.7 259.6 L221.8 260.9 L224.3 263.4 L227.5 264.4 L229.7 268.1 L231.1 272.1 L230.6 275.3 L230.1 278.6 L229.9 282.0 L231.5 285.0 L234.2 287.0 L236.1 289.6 L237.7 292.2 L239.1 294.8 L241.3 297.0 L239.7 299.8 L238.6 302.8 L237.6 305.8 L236.2 308.9 L234.0 311.5 L232.7 314.6 L229.3 315.6 L226.9 318.3 L223.9 319.7 L222.4 323.5 L219.8 326.9 L217.0 329.7 L213.9 332.1 L212.7 334.9 L211.0 337.4 L208.7 339.4 L209.8 343.3 L211.2 347.0 L214.1 349.8 L217.6 351.8 L214.9 354.0 L212.6 356.3 L209.9 358.1 L213.1 358.3 L216.1 357.9 L218.9 356.1 L222.1 356.8 L225.0 355.9 L228.5 355.6 L231.5 353.5 L235.0 353.1 L237.2 355.4 L239.0 357.8 L239.9 360.8 L240.8 364.1 L242.4 367.0 L246.1 368.3 L250.0 368.9 L253.8 369.4 L256.8 370.2 L259.6 371.4 L262.0 373.6 L265.1 374.4 L267.3 376.8 L269.3 379.4 L271.4 381.9 L272.9 385.6 L273.8 389.5 L272.2 393.1 L271.3 397.0 L274.3 398.9 L276.7 401.8 L280.0 403.3 L283.6 405.0 L287.5 405.8 L290.7 404.2 L294.1 403.9 L297.5 403.2 L300.3 401.1 L302.4 398.2 L306.1 399.8 L310.0 400.8 L313.8 400.3 L317.5 400.9 L321.1 401.4 L324.0 403.7 L327.6 404.4 L330.5 403.4 L333.7 403.4 L336.9 404.0 L340.0 403.5 L343.7 404.2 L346.7 406.6 L350.0 408.2 L353.2 409.9 L356.8 410.3 L360.0 412.0 L363.4 413.4 L366.4 415.8 L370.1 416.9 L373.3 417.7 L376.7 416.7 L380.0 416.9 L383.1 417.3 L386.2 417.0 L389.3 417.7 L391.8 419.7 L395.0 420.1 L397.4 422.1 L400.7 423.9 L404.0 425.7 L407.5 427.1 L410.9 428.5 L414.2 430.2 L417.5 432.0 L419.7 434.2 L422.9 434.8 L424.9 437.2 L427.9 438.0 L430.3 439.9 L432.6 441.9 L433.1 445.6 L435.0 448.7 L436.3 452.0 L433.8 455.5 L432.6 459.6 L428.8 464.0" stroke-width="1.15"/>
<path d="M210.0 358.2 L213.1 360.2 L216.2 362.1 L215.2 365.7 L214.9 369.5 L216.9 371.9 L218.6 374.3 L220.1 376.9 L217.2 378.4 L214.8 380.5 L212.3 382.3 L210.1 384.6" stroke-width="1.15"/>
<path d="M260.0 252.0 L262.6 254.2 L264.7 256.8 L267.4 258.8 L270.4 260.6 L272.5 263.2 L275.7 263.6 L278.7 262.2 L281.8 261.8 L285.0 261.9 L286.4 264.7 L287.9 267.3 L290.1 269.4 L292.9 271.6 L295.3 274.2 L297.6 276.9 L299.1 279.5 L301.3 281.7 L302.6 284.5 L303.8 287.7 L303.4 291.4 L304.9 294.5 L304.3 298.1 L301.8 300.9 L301.4 304.6 L302.7 307.3 L303.0 310.6 L304.9 313.3 L308.2 315.3 L311.7 316.5 L315.1 318.1 L318.7 320.3 L322.6 321.8 L325.3 324.2 L327.5 327.0 L331.1 323.1" stroke-width="1.15"/>
<path d="M362.8 251.0 L359.2 253.4 L355.4 255.4 L353.7 259.0 L352.5 262.7 L353.0 267.2 L354.0 271.5 L352.6 273.4 L349.3 272.9 L346.0 273.1 L342.8 272.4 L339.5 272.0 L336.2 272.5 L336.1 276.0 L336.1 279.5 L334.3 282.9 L332.5 286.4 L329.9 289.4 L331.6 292.4 L333.8 294.8 L336.2 297.1 L338.4 299.1 L341.1 300.6 L343.7 302.1 L343.4 305.3 L343.2 308.7 L342.4 312.0 L341.4 314.9 L339.3 317.1 L337.4 319.4 L336.5 323.2 L336.2 327.0 L338.4 329.3 L340.0 332.0 L343.4 333.6 L346.6 335.5 L350.0 337.0 L353.4 336.9 L356.8 336.8 L360.0 335.6 L363.8 335.4 L367.5 334.6 L366.1 331.4 L365.0 328.3 L368.9 328.4 L372.5 326.8 L375.5 326.8 L378.5 326.0 L381.5 326.7 L384.6 326.7 L387.5 325.8 L386.4 322.1 L386.8 318.2 L386.3 314.5 L387.5 311.5 L388.1 308.3 L389.3 305.2 L390.2 302.0 L389.6 298.7 L389.0 295.4 L389.0 292.0 L385.6 290.7 L383.1 288.4 L380.0 287.0 L376.8 285.4 L373.1 285.1 L370.1 283.0 L366.8 282.5 L363.5 282.1 L360.5 280.8 L357.5 279.5 L354.4 276.9 L352.5 273.3" stroke-width="1.15"/>
<path d="M272.5 263.2 L275.8 261.9 L279.3 261.0 L282.5 259.4 L285.9 258.4 L289.4 257.6 L293.1 257.6 L296.6 257.2 L300.0 255.8 L303.4 254.6 L307.1 254.7 L310.5 253.3 L313.9 252.3 L317.5 251.8" stroke-width="1.15"/>
<path d="M331.2 327.0 L331.2 330.4 L331.6 333.7 L332.4 337.0 L330.9 340.4 L329.1 343.6 L327.6 347.1 L329.6 349.3 L332.6 350.1 L335.0 352.1 L337.4 357.1 L335.2 359.2 L333.8 362.0 L332.1 364.7 L330.0 367.0 L331.4 370.2 L331.1 373.8 L332.6 377.0 L329.2 376.4 L325.8 377.4 L322.5 377.1 L319.8 379.0 L316.7 380.4 L313.8 382.1 L315.4 385.1 L315.1 388.8 L316.4 392.0 L313.4 394.8 L310.1 397.1 L306.3 397.7 L302.5 398.3" stroke-width="1.15"/>
<path d="M440.0 252.0 L441.7 255.8 L443.7 259.5 L442.2 262.1 L439.7 264.1 L438.0 266.7 L437.3 269.9 L434.9 271.9 L434.6 275.1 L435.0 278.0 L436.3 281.0 L435.5 284.0 L436.2 287.0 L437.5 289.9 L438.0 292.9 L437.0 296.1 L438.0 299.0 L438.9 302.0 L440.0 305.0 L440.6 308.1 L441.0 311.3 L441.1 314.5 L440.5 317.7 L439.9 320.9 L437.8 323.7 L437.4 327.0 L436.7 330.5 L434.4 333.4 L433.7 337.0 L433.7 340.4 L434.3 343.7 L434.8 347.0 L436.7 349.8 L438.8 352.3 L441.4 354.4 L442.6 358.0 L444.5 361.2 L446.1 364.6 L448.4 366.9 L449.9 369.9 L452.5 372.0 L453.7 375.2 L454.6 378.6 L455.2 382.0 L457.5 384.5 L460.1 386.9 L462.2 389.5 L464.8 391.6 L466.6 394.5 L468.8 397.0 L471.8 399.5 L474.9 402.1" stroke-width="1.15"/>
<path d="M435.0 344.5 L437.8 343.0 L441.1 343.5 L444.0 342.2 L447.0 341.6 L450.0 340.8 L453.3 340.3 L456.2 338.7 L459.3 337.8 L462.6 337.2 L465.5 334.7 L469.3 333.9 L472.5 332.1 L474.8 329.3" stroke-width="1.15"/>
<path d="M420.0 432.0 L418.8 427.0 L418.1 423.8 L417.5 420.6 L415.7 417.7 L415.2 414.4 L416.7 412.0 L418.3 409.5 L420.2 407.1 L423.3 405.6 L426.9 406.1 L430.3 405.3 L433.7 404.4 L432.7 399.5 L429.1 398.9 L425.8 397.9 L422.5 397.0 L425.1 392.1 L422.2 389.8 L420.0 387.0 L416.3 387.7 L412.5 388.2 L416.0 387.9 L419.1 386.3 L422.5 385.9 L426.0 386.1 L429.5 386.8 L433.1 386.9 L436.5 387.8 L440.0 388.5 L443.4 388.1 L446.7 387.9 L450.0 386.9 L453.1 386.7 L456.2 386.9" stroke-width="1.15"/>
<path d="M386.2 417.0 L384.9 420.7 L383.7 424.5 L385.2 428.5 L387.7 431.9 L385.3 434.3 L383.3 436.6 L381.8 439.5 L380.2 442.1 L378.6 444.7 L377.3 447.4 L375.1 449.6 L373.1 453.0 L372.5 457.0 L369.1 457.6 L365.7 458.2 L362.5 459.3 L358.7 464.0" stroke-width="1.15"/>
<path d="M475.0 323.2 L478.1 323.7 L481.2 324.1 L484.3 324.5 L487.5 324.5 L490.7 324.2 L493.7 322.8 L496.9 322.9 L500.0 322.0 L503.6 320.3 L506.3 317.3 L509.9 315.6 L512.5 313.4 L516.1 312.8 L518.8 310.9 L519.8 307.9 L520.2 304.9 L521.4 302.0 L521.7 299.0 L521.3 296.0 L520.9 293.0 L520.9 290.0 L521.2 287.0 L518.9 284.3 L517.0 281.2 L515.1 278.2 L517.2 275.8 L517.5 272.3 L519.8 269.9 L521.1 266.9 L521.9 263.5 L524.2 260.5 L525.0 257.0 L527.7 252.1" stroke-width="1.15"/>
<path d="M521.2 287.0 L525.0 287.7 L528.9 287.9 L532.5 289.4 L535.8 290.5 L539.0 291.8 L542.4 292.2 L545.6 292.3 L548.8 292.5 L551.9 292.3 L555.0 293.3 L558.2 292.0 L561.5 291.0 L564.9 290.5 L566.4 293.7 L566.2 297.0 L565.6 300.6 L563.0 303.6 L563.1 307.5 L561.1 310.7 L560.2 313.9 L558.8 316.7 L556.3 319.0 L555.1 322.1 L557.9 324.2 L561.3 325.6 L561.4 322.6 L563.3 320.0 L563.8 317.0 L566.3 314.4 L568.2 311.4 L569.8 308.1 L572.7 305.5 L575.3 302.6 L577.5 299.5 L581.1 296.9 L583.7 293.2 L582.7 289.4 L579.2 291.7 L576.4 294.7 L573.8 297.2 L570.3 298.5 L567.4 300.6 L565.6 297.2 L564.7 293.3 L563.9 289.5 L562.9 286.4 L563.7 283.2 L562.8 280.1 L562.3 277.0 L564.2 274.4 L566.3 272.1 L568.0 269.4 L570.1 267.1 L571.2 263.4 L573.8 260.5 L574.9 257.0 L577.6 252.0" stroke-width="1.15"/>
<path d="M561.2 325.8 L564.6 326.9 L568.2 327.5 L571.6 328.4 L575.0 329.6 L578.2 331.0 L581.6 331.6 L585.0 332.0 L588.9 332.9 L592.6 334.3 L594.8 332.4 L596.1 329.7 L597.6 327.1 L601.1 324.9 L605.0 323.3 L607.9 326.0 L611.4 327.9 L615.0 329.5 L618.9 331.1 L622.5 333.2 L626.5 331.9 L630.0 329.4 L633.8 328.5 L637.5 327.0 L641.0 329.4 L644.9 330.9 L647.2 327.4 L649.8 324.4 L652.3 322.5 L654.9 321.1 L657.5 319.5 L659.6 317.3 L661.3 314.8 L662.3 311.9 L666.4 311.3 L670.0 309.6 L671.8 305.9 L672.5 302.0 L673.9 299.3 L676.3 297.3 L677.6 294.6 L680.2 292.2 L682.6 289.6 L684.2 286.9 L685.7 284.1 L688.2 282.1 L690.1 279.6 L691.3 276.7 L693.7 274.7 L695.2 272.1 L697.2 269.2 L700.0 267.0 L701.9 264.7 L703.3 262.0 L704.9 259.4 L707.3 257.5 L710.2 256.5 L712.6 254.6 L716.2 252.0" stroke-width="1.15"/>
<path d="M668.8 317.0 L672.1 317.6 L674.9 319.6 L678.0 321.2 L681.4 321.6 L684.3 323.4 L687.4 324.7 L690.4 326.3 L693.7 327.0 L696.9 328.2 L700.0 329.5 L702.3 331.7 L704.1 334.2 L706.0 336.7 L707.4 339.6 L709.6 342.5 L711.2 345.8 L713.3 348.8 L715.0 352.0 L717.3 354.2 L719.3 356.6 L720.0 360.0 L722.5 362.0 L723.9 365.2 L724.0 368.7 L724.9 372.0 L727.8 373.4 L729.9 375.9 L732.6 377.4 L735.0 379.5 L738.3 380.5 L741.2 382.2 L743.6 384.7 L746.7 386.3 L750.0 387.0" stroke-width="1.15"/>
<path d="M592.5 334.5 L594.9 337.1 L597.6 339.4 L599.8 341.5 L602.6 342.7 L604.9 344.7 L608.2 345.7 L611.5 346.7 L614.9 347.2 L618.3 346.6 L621.7 346.3 L625.0 346.9 L628.5 347.3 L631.8 348.0 L635.1 349.3 L637.5 353.3 L640.9 353.4 L644.2 352.4 L647.5 352.2 L646.4 355.3 L647.4 358.8 L646.2 362.0 L645.8 365.2 L645.2 368.3 L647.1 370.7 L650.1 371.9 L651.6 374.6 L653.1 377.1 L654.8 379.6 L658.3 379.8 L661.7 379.3 L665.0 379.5 L666.4 376.7 L668.9 374.6 L672.0 374.6 L675.0 373.1 L677.9 374.5 L680.1 376.9 L680.2 380.1 L679.8 383.2 L677.1 384.6 L674.9 386.9 L671.1 387.1 L667.5 385.6 L665.9 388.8 L664.9 392.0 L667.3 397.1 L664.8 400.1 L661.4 402.1 L662.8 405.3 L664.8 408.4 L668.6 410.4 L672.5 411.9 L674.9 414.6 L677.4 417.1 L675.2 422.1 L678.8 423.0 L682.5 424.4 L685.7 423.1 L689.2 422.8 L692.5 421.8 L696.3 422.2 L700.0 423.1 L703.8 422.9 L707.5 421.8 L711.1 424.2 L715.1 425.6 L718.9 425.6 L722.5 427.2 L726.3 427.2 L730.0 428.5 L734.5 428.2 L738.8 427.2" stroke-width="1.15"/>
<path d="M475.0 402.0 L478.4 403.0 L481.3 405.0 L484.7 406.1 L487.4 408.4 L490.6 408.8 L493.8 408.5 L496.9 408.2 L500.0 408.2 L503.2 408.1 L506.2 407.0 L509.4 406.6 L512.5 405.6 L515.6 405.0 L518.7 404.4 L521.9 405.2 L525.0 404.5 L528.9 405.2 L532.4 407.2 L534.1 410.6 L535.0 414.5 L537.8 415.7 L540.2 417.5 L542.4 419.6 L545.7 419.9 L548.9 420.2 L551.9 421.4 L555.0 421.9 L557.1 424.2 L560.3 424.8 L562.4 427.2 L565.9 426.7 L569.1 428.5 L572.5 428.3 L575.4 426.0 L578.7 424.5 L581.7 421.7 L584.9 419.4 L588.7 418.4 L592.5 418.2 L594.5 415.4 L595.2 412.1 L594.8 408.5 L592.7 405.5 L592.4 402.0 L591.9 398.0 L589.8 394.6 L585.0 396.9 L581.6 396.9 L578.4 395.4 L575.0 396.0 L573.7 393.0 L571.5 390.9 L569.9 388.3 L566.5 387.1 L563.8 384.4 L562.5 379.5 L565.2 377.4 L568.3 376.1 L571.3 374.7 L572.7 370.5 L575.0 367.0 L577.2 364.7 L579.9 363.1 L580.0 359.9 L579.5 356.5 L578.6 353.3 L581.6 351.4 L584.9 350.6 L587.4 353.0 L590.0 354.9 L592.6 356.9 L596.3 357.2 L600.0 358.3 L602.8 355.3 L605.1 352.1 L606.4 348.3 L607.4 344.5" stroke-width="1.15"/>
<path d="M580.0 427.0 L583.0 429.5 L584.7 433.1 L587.5 435.7 L590.7 437.3 L594.4 437.6 L597.4 439.6 L598.6 442.8 L598.6 446.3 L599.8 449.5 L595.0 452.0 L597.3 454.1 L597.8 457.4 L600.0 459.5 L602.1 462.2 L605.1 463.9" stroke-width="1.15"/>
<path d="M697.5 424.5 L698.6 428.2 L698.6 432.0 L696.8 435.4 L695.0 439.0 L692.6 442.0 L693.6 445.2 L695.2 448.2 L691.2 448.8 L687.5 449.5 L685.0 452.0 L682.6 454.6 L682.6 457.7 L682.8 460.9 L683.6 464.0" stroke-width="1.15"/>
<path d="M723.6 370.0 L726.3 375.1 L731.2 377.7 L736.4 380.1 L740.1 384.7 L743.6 385.3 L746.5 387.3 L750.9 389.3 L754.2 393.5 L757.4 396.7 L753.2 397.0 L749.1 397.3 L745.5 397.3 L742.5 394.9 L738.9 394.9 L734.5 396.2 L737.8 399.8 L741.0 401.1 L743.9 403.2 L747.5 402.8 L750.9 403.3 L754.2 404.5 L757.9 402.3 L754.6 402.2 L751.7 400.5 L748.7 399.8 L745.7 399.2 L742.7 398.5 L739.4 398.3 L736.4 396.6" stroke-width="1.15"/>
<path d="M754.2 408.2 L755.8 410.9 L758.2 413.1 L760.7 415.4 L762.5 418.4 L758.0 422.2 L755.0 423.8 L751.7 424.9 L749.2 426.8 L746.7 428.7 L743.9 430.7 L741.3 432.9 L740.7 436.1 L738.9 438.7 L736.3 441.8 L731.3 442.7 L726.2 441.8 L729.3 444.0 L733.2 447.6 L737.6 447.6 L740.6 445.5 L742.7 442.6 L747.8 440.6 L752.9 441.5 L755.2 443.5 L758.0 445.0 L763.1 447.5 L768.2 448.2" stroke-width="1.15"/>
<path d="M740.2 406.9 L739.0 410.8 L737.4 414.5 L736.2 418.3 L737.5 421.3 L739.3 423.7 L741.3 426.1 L745.6 427.3 L749.1 429.8" stroke-width="1.15"/>
<path d="M660.0 381.5 L665.1 380.4 L667.8 375.2 L672.7 372.4 L676.0 373.7 L679.1 375.2 L680.3 378.5 L681.0 382.1 L678.0 386.7 L672.7 384.0 L669.5 384.6 L666.4 385.5 L663.9 387.9 L665.1 390.8 L667.5 393.0 L666.2 398.6 L661.2 401.1 L663.7 405.7 L666.0 408.0 L668.8 409.6 L672.4 410.0 L675.2 412.1 L676.7 417.1 L673.3 420.9 L676.6 423.4 L679.5 422.9 L682.6 422.8 L685.5 421.6 L691.2 420.2 L691.8 422.2 L695.6 422.4 L699.4 423.0 L703.2 421.8 L707.1 421.5 L710.9 424.8 L716.0 425.8 L721.1 426.0 L724.8 429.4 L727.5 427.0 L729.9 424.6 L733.8 420.9 L736.4 418.4" stroke-width="1.15"/>
<path d="M699.5 422.8 L699.7 427.0 L699.0 431.1 L698.1 434.5 L696.4 437.5 L691.8 441.3 L694.4 445.0 L697.0 446.3 L693.3 448.3 L689.3 448.9 L684.1 450.0 L682.9 454.6 L683.4 458.2 L684.1 461.7 L682.7 465.7 L680.3 469.2 L677.2 472.5 L674.0 475.6 L670.2 477.9" stroke-width="1.15"/>
<path d="M360.0 464.0 L358.2 466.5 L356.5 469.2 L354.7 471.7 L352.6 474.1 L350.0 476.5 L347.6 479.1 L345.0 481.5 L340.6 482.3 L336.2 481.6 L333.5 478.5 L329.9 476.6 L326.7 476.0 L323.3 475.7 L320.0 475.4 L316.8 474.1 L313.3 474.7 L310.0 473.9 L307.8 476.3 L305.1 477.9 L305.3 480.8 L306.8 483.6 L307.7 486.4 L305.1 488.3 L302.6 489.9 L299.9 491.4 L298.6 494.4 L296.4 496.6 L297.3 499.4 L299.3 501.7 L301.4 503.9 L304.4 504.4 L307.5 505.2 L308.5 509.1 L309.9 512.8 L312.8 515.1 L316.2 516.6 L319.2 517.4 L322.0 518.5 L325.0 519.1 L327.2 522.4 L330.0 525.2 L332.6 521.6 L334.1 524.8 L336.1 527.9 L338.4 525.4 L341.4 524.1 L343.8 520.3 L347.6 517.8 L350.7 517.3 L353.7 516.5 L356.0 514.4 L357.2 511.6 L358.7 509.0 L363.8 507.9 L366.5 510.7 L370.0 512.8 L373.7 511.9 L377.5 511.5 L380.6 511.4 L383.8 511.6 L384.9 514.3 L385.6 517.3 L386.2 520.3 L389.5 523.2 L392.6 526.4 L394.0 529.9 L396.1 532.8 L399.2 534.0 L402.1 535.2 L405.1 536.4 L406.4 533.0 L407.8 529.6 L410.0 526.5 L410.6 523.5 L410.3 520.4 L412.2 517.6 L411.7 514.5 L412.7 511.5 L411.3 507.9 L409.8 504.5 L407.4 501.6 L404.9 499.1 L403.0 496.0 L399.8 494.2 L396.3 493.0 L393.4 490.6 L390.0 489.0 L389.4 485.4 L387.9 482.2 L386.3 479.0 L388.2 475.9 L388.8 472.3 L390.0 469.0 L392.7 466.7 L395.0 464.0" stroke-width="1.15"/>
<path d="M412.5 511.5 L413.0 514.5 L412.8 517.5 L413.5 520.5 L412.8 523.6 L413.7 526.5 L414.7 529.5 L416.4 532.3 L416.9 535.4 L417.9 538.4 L418.7 541.5 L418.3 544.6 L417.5 547.7 L417.1 550.8 L417.5 554.0 L415.7 556.6 L413.6 558.9 L411.2 561.0 L410.1 564.0 L406.6 565.6 L403.1 566.9 L400.1 569.1 L403.1 568.1 L406.4 568.5 L409.5 567.6 L412.5 566.5 L415.7 567.6 L418.0 570.4 L421.2 571.6 L419.5 574.7 L418.0 577.9 L417.3 581.4 L418.5 584.8 L419.7 588.0 L420.1 591.5 L420.6 595.9 L421.2 600.3 L424.6 601.0 L427.6 602.6 L430.1 600.8 L432.6 598.7 L435.0 596.4 L438.1 598.5 L441.6 599.2 L445.1 600.0 L447.4 598.1 L450.3 596.4 L452.4 593.9 L455.2 592.6 L457.1 590.0 L459.9 588.9 L463.8 588.9 L467.5 587.8 L471.1 589.9 L475.1 591.4" stroke-width="1.15"/>
<path d="M412.5 511.5 L413.7 508.4 L415.1 505.3 L415.9 502.0 L417.6 499.0 L420.0 496.5 L423.1 494.6 L425.0 491.5 L428.1 490.7 L431.1 489.7 L434.3 489.1 L437.5 489.1 L440.7 487.6 L444.0 486.7 L447.5 486.3 L448.8 483.4 L450.1 480.3 L453.1 480.1 L456.3 480.1 L459.3 478.6 L462.5 478.8 L465.5 480.4 L468.8 480.6 L471.8 482.1 L475.0 482.7" stroke-width="1.15"/>
<path d="M316.2 516.5 L313.6 518.6 L310.6 520.2 L307.6 521.7 L304.8 526.4 L306.1 529.7 L307.6 532.7 L310.0 534.3 L312.6 535.9 L315.1 537.6 L318.1 540.0 L321.6 541.2 L324.9 542.9 L325.1 545.9 L324.9 549.0 L321.6 549.9 L318.1 550.7 L314.4 549.8 L310.9 550.4 L307.5 551.6 L304.4 550.6 L301.3 550.4 L298.1 550.9 L295.0 550.2 L294.9 547.1 L293.3 544.4 L292.7 541.4 L289.2 540.6 L286.2 539.0 L282.9 541.9 L280.1 545.3 L276.6 545.1 L273.4 543.8 L270.0 544.0 L267.6 538.9 L268.4 535.7 L269.9 532.7 L267.9 529.7 L266.1 526.6 L268.9 522.9 L265.8 523.1 L262.8 522.7 L259.8 523.4 L256.8 522.7 L253.8 522.8 L253.1 525.7 L252.8 528.8 L251.4 531.5 L248.1 532.7 L245.5 535.0 L242.6 536.6 L241.4 541.5 L239.3 544.2 L237.2 546.8 L235.2 549.5 L232.4 551.4 L229.7 554.2 L227.0 556.9 L223.7 558.9 L224.0 562.4 L223.3 565.7 L222.3 569.0 L223.9 572.2 L224.3 575.6 L224.8 579.0 L224.5 582.8 L225.2 586.5 L222.2 588.8 L219.0 590.4 L216.3 592.8 L212.8 590.2 L208.7 589.1" stroke-width="1.15"/>
<path d="M295.0 550.2 L293.5 553.0 L293.3 556.1 L292.6 559.0 L289.2 559.9 L286.0 561.2 L282.5 561.4 L278.7 561.3 L275.0 560.1 L271.3 558.9 L267.5 557.8 L264.7 559.4 L261.6 560.1 L258.8 561.6 L255.8 559.7 L252.4 559.2 L250.0 561.9 L247.4 564.8 L245.1 567.8 L246.5 571.1 L248.8 574.0 L247.9 577.1 L247.5 580.2 L250.8 582.5 L253.8 585.2 L256.9 583.8 L260.3 583.1 L263.8 582.9 L268.2 583.1 L272.5 584.1 L274.3 586.9 L275.0 590.3 L273.1 593.7 L270.8 596.9 L268.8 600.3 L268.1 603.3 L266.5 606.0 L265.4 608.9 L263.9 611.6 L266.5 613.5 L269.8 614.5 L272.5 616.5 L273.6 619.4 L275.5 621.7 L277.3 624.1 L274.9 627.0 L273.8 631.0 L271.3 634.1 L270.0 638.1 L267.4 641.5 L268.9 644.5 L271.0 647.2 L272.5 650.2 L275.1 646.5 L278.1 647.4 L281.3 647.4 L284.3 648.9 L287.5 648.9 L288.6 652.0 L290.5 654.6 L291.4 657.7 L295.5 659.0 L300.0 659.1 L303.4 658.9 L306.6 657.4 L310.0 657.5 L314.0 659.1 L317.6 661.4 L319.0 665.2 L320.1 669.0 L319.4 672.7 L317.6 676.0" stroke-width="1.15"/>
<path d="M267.5 641.5 L271.3 640.5 L275.0 638.9 L278.4 637.9 L281.3 636.0 L284.5 634.6 L287.4 632.6 L290.7 633.6 L293.7 634.9 L296.9 635.3 L300.1 636.3 L303.2 637.9 L306.6 638.6 L310.0 638.9 L315.1 641.3 L317.9 638.7 L320.0 635.3 L323.0 632.9 L326.5 631.6 L329.9 630.1 L333.5 629.4 L336.5 627.3 L340.1 626.7 L342.0 624.2 L342.8 621.1 L345.1 619.1 L347.4 617.2 L350.2 616.0 L352.6 614.1 L355.3 616.9 L357.7 620.1 L360.9 622.8 L365.0 624.0 L368.5 625.9 L372.5 626.6 L376.4 625.6 L380.1 624.2 L382.7 621.0 L385.0 617.7 L388.5 615.8 L392.5 615.3 L395.1 617.0 L397.5 619.0 L400.5 616.3 L402.4 612.6 L406.3 612.5 L410.0 611.3 L412.7 609.7 L415.3 607.7 L417.4 605.2 L419.4 602.8 L421.4 600.4" stroke-width="1.15"/>
<path d="M475.0 616.5 L472.3 618.8 L470.0 621.5 L469.1 625.4 L467.7 629.1 L472.5 631.4" stroke-width="1.15"/>
<path d="M475.0 482.8 L478.4 483.0 L481.7 483.1 L485.0 483.9 L487.8 485.2 L489.8 487.6 L492.5 489.1 L495.8 488.6 L499.2 488.6 L502.5 489.0 L505.6 487.7 L509.0 487.1 L511.8 485.0 L515.0 483.9 L516.2 486.8 L518.8 488.7 L520.0 491.5 L522.4 489.6 L525.3 488.6 L527.5 486.5 L530.2 485.2 L532.2 482.7 L535.0 481.6 L536.1 484.9 L537.6 488.1 L538.6 491.5 L539.1 495.0 L541.0 498.0 L541.3 501.5 L544.5 502.5 L547.6 503.9 L549.5 501.0 L552.3 498.8 L554.9 496.4 L558.2 495.5 L561.2 493.9 L564.1 492.2 L567.5 491.4 L570.8 489.8 L574.1 488.0 L577.4 486.4 L579.6 484.3 L582.1 482.5 L585.1 481.7 L588.5 480.6 L591.4 478.4 L595.0 477.8 L598.5 477.7 L601.7 476.2 L605.0 475.1 L605.8 472.3 L606.6 469.4 L607.4 466.5 L605.0 464.0" stroke-width="1.15"/>
<path d="M607.5 474.0 L611.1 472.6 L615.0 472.9 L617.7 470.4 L620.0 467.8 L622.1 470.2 L625.0 471.6 L626.6 474.5 L627.6 477.7 L631.1 476.0 L634.9 475.0 L638.5 474.4 L641.9 473.3 L645.0 471.4 L647.8 473.0 L650.0 475.3 L653.4 475.4 L656.8 475.1 L660.0 473.8 L663.5 476.3 L667.4 477.9 L671.4 476.2 L675.0 473.9 L677.1 470.6 L680.1 467.8 L682.4 464.0" stroke-width="1.15"/>
<path d="M547.5 504.0 L549.3 506.4 L550.8 509.0 L552.6 511.5 L552.8 515.0 L554.6 518.1 L555.2 521.4 L557.5 526.5 L554.9 528.2 L552.2 529.8 L549.8 531.9 L547.4 533.8 L545.2 536.1 L544.2 539.0 L542.5 541.5 L542.4 545.3 L541.3 549.0 L543.7 550.8 L546.6 551.8 L548.7 554.1 L549.7 557.3 L549.7 560.7 L549.8 564.0 L552.3 567.0 L554.0 570.3 L555.0 574.0 L557.3 577.5 L558.7 581.5 L561.3 584.2 L562.4 587.8 L559.6 590.5 L557.4 593.9 L557.2 597.3 L557.0 600.7 L556.2 604.0 L558.1 607.8 L560.0 611.5 L557.6 614.1 L560.8 613.9 L564.2 614.3 L567.5 614.2 L571.5 612.7 L574.9 610.1 L578.9 611.8 L582.5 614.0 L581.2 617.7 L580.1 621.5 L577.8 624.3 L575.5 627.0 L572.6 629.1 L568.8 632.8 L571.4 635.8 L574.9 637.9 L578.5 637.0 L581.9 636.0 L585.1 634.2 L587.6 632.5 L590.3 631.1 L592.4 628.8 L595.9 628.4 L599.2 627.5 L602.5 626.4 L606.9 626.6 L611.2 626.7 L613.8 628.4 L616.2 630.3 L616.3 626.9 L616.8 623.6 L617.7 620.3" stroke-width="1.15"/>
<path d="M667.5 477.8 L667.4 480.9 L666.3 483.7 L664.9 486.5 L666.9 488.9 L669.3 491.1 L670.4 494.2 L672.5 496.5 L674.5 499.1 L676.8 501.4 L678.7 504.0 L679.3 507.8 L680.0 511.5 L677.9 514.4 L675.4 516.9 L672.4 518.9 L670.0 520.6 L667.8 522.8 L664.9 523.9 L661.4 525.6 L657.6 526.7 L652.5 525.2 L651.2 528.0 L649.2 530.3 L647.5 532.7 L644.6 535.0 L641.2 536.5 L643.4 538.7 L644.6 541.5 L646.2 544.0 L644.7 546.9 L642.2 549.1 L640.2 551.6 L636.9 554.1 L633.6 556.4 L632.8 559.8 L631.8 563.1 L631.1 566.5 L633.1 570.1 L633.5 574.1 L631.8 576.3 L630.9 579.4 L628.6 581.4 L627.2 584.1 L625.9 586.8 L623.6 588.9 L622.7 592.1 L621.5 595.1 L621.5 598.5 L619.9 601.5 L620.3 604.9 L619.6 608.2 L618.8 611.5 L618.9 616.0 L617.5 620.2 L620.9 620.2 L624.2 620.8 L627.5 621.6 L630.9 622.2 L634.0 623.8 L637.5 624.1 L640.6 625.8 L644.1 626.6 L647.4 627.9 L648.2 630.8 L650.5 633.2 L650.9 636.3 L652.6 639.0 L653.3 642.9 L654.9 646.5 L656.4 649.9 L658.9 652.7" stroke-width="1.15"/>
<path d="M680.0 511.5 L684.3 510.7 L688.8 510.4 L689.7 513.4 L691.6 516.0 L694.1 518.3 L695.0 521.5 L696.1 525.2 L695.8 529.0 L696.1 532.8 L700.5 531.5 L705.0 531.7 L708.5 530.1 L711.5 527.8 L714.9 526.4 L718.2 529.6 L721.1 532.9 L719.1 535.2 L717.6 538.1 L715.2 540.4 L713.9 544.1 L716.4 546.1 L719.8 546.9 L722.5 549.0 L725.2 551.3 L727.4 554.1" stroke-width="1.15"/>
<path d="M750.0 510.2 L750.1 512.2 L750.8 514.2 L747.0 515.3 L748.2 517.4 L747.0 519.1 L746.1 520.8 L745.0 522.4 L748.9 525.2 L746.5 526.6 L745.9 529.2 L743.1 529.6 L740.3 529.9 L739.7 532.4 L737.0 533.3 L735.8 531.5 L735.3 528.6 L733.3 530.0 L733.4 532.3 L732.1 533.6 L732.4 535.9 L729.6 536.2 L732.0 536.6 L733.2 539.4 L735.5 538.9 L737.7 538.4 L737.2 541.0 L736.6 542.8 L732.9 542.5 L733.1 544.8 L733.0 546.9 L732.8 548.9 L731.1 549.9 L729.6 551.1 L728.2 552.3 L727.6 554.1 L729.6 554.0 L732.0 553.0 L733.0 556.2 L735.1 556.3 L735.5 559.5 L732.7 559.7 L729.4 559.7 L730.5 563.2 L730.5 565.3 L727.3 565.8 L727.9 568.5 L726.9 570.3 L725.0 571.5 L726.6 573.2 L725.7 575.6 L726.4 577.5 L724.9 580.0 L726.8 581.7 L730.2 580.6 L730.3 583.7 L731.3 585.6 L732.5 587.0 L734.8 586.8 L733.0 587.2 L731.3 588.5 L730.4 590.8 L729.0 592.3 L725.8 591.6 L724.7 593.6 L723.5 591.5 L721.2 592.2 L718.8 593.4 L717.3 590.8 L715.1 591.2 L714.0 593.0 L712.5 594.1 L712.6 596.4 L710.8 597.4 L710.1 599.1 L712.7 598.2 L713.4 600.3 L715.0 601.3 L714.7 605.0 L717.5 604.0 L716.1 605.4 L714.7 606.8 L713.1 607.6 L711.2 608.0 L709.9 609.7 L707.8 609.6 L705.0 608.5 L704.6 611.2 L703.1 612.2 L701.3 612.7 L700.2 614.2 L702.8 614.5 L704.8 615.9 L705.2 618.8 L703.7 620.7 L701.2 619.7 L699.9 621.3 L697.4 620.5 L697.0 623.9 L694.7 623.5 L693.3 624.7 L693.1 627.7 L691.4 628.3 L688.8 627.7 L687.1 628.4 L685.3 629.2 L683.8 626.7 L681.4 627.8 L679.9 625.3 L677.3 627.1 L679.2 628.1 L679.5 631.2 L682.7 631.3 L681.6 633.5 L680.8 635.4 L678.9 635.8 L677.1 636.4 L674.8 636.3 L675.2 638.8 L673.5 639.9 L673.4 641.9 L670.8 642.5 L668.8 643.4 L668.8 645.5 L669.7 648.2 L667.2 648.8 L664.6 648.5 L664.2 651.1 L664.3 654.3 L660.5 652.9 L659.7 654.8 L659.3 657.3 L658.9 659.5 L657.4 660.9 L655.0 661.5 L652.3 662.1 L652.0 664.4 L650.8 666.1 L651.8 668.9 L650.5 670.6 L647.9 671.8 L647.6 673.8 L647.6 676.1" stroke-width="1.15"/>
<path d="M475.0 600.2 L477.3 602.4 L480.0 603.9 L480.3 607.4 L479.3 610.7 L479.0 614.0 L475.0 617.7" stroke-width="1.15"/>
<path d="M475.0 624.0 L478.8 625.0 L482.5 626.5 L483.2 629.9 L484.5 633.1 L485.0 636.5 L488.0 635.4 L491.3 636.6 L494.4 635.7 L497.5 635.5 L499.5 632.6 L502.6 631.2 L505.1 629.1 L504.1 625.3 L503.6 621.5 L508.0 620.3 L512.5 620.1 L515.7 621.9 L519.4 622.1 L522.4 624.1 L525.7 625.8 L528.7 627.8 L528.1 624.0 L527.2 620.2 L526.3 616.5 L529.2 615.0 L531.9 612.9 L535.1 611.6 L538.7 610.5 L542.5 610.4 L546.1 611.9 L550.0 612.9 L553.8 613.1 L557.5 614.1" stroke-width="1.15"/>
<path d="M497.5 635.2 L497.6 638.4 L499.2 641.1 L500.1 644.0 L498.7 647.3 L496.8 650.4 L496.4 654.1 L494.8 657.7 L492.1 660.7 L489.9 664.0 L488.0 666.3 L486.8 669.1 L484.8 671.4 L482.6 676.1" stroke-width="1.15"/>
<path d="M741.5 530.0 L738.9 530.8 L739.5 534.8 L736.8 535.6 L738.8 536.0 L740.0 537.5 L738.9 540.2 L737.4 541.7 L737.6 544.5 L734.6 544.9 L736.4 547.7 L736.9 550.2 L735.4 552.6 L732.5 551.0 L731.0 552.4 L730.5 556.0 L727.9 557.2 L726.8 558.9 L729.9 559.7 L728.7 562.1 L727.1 562.5 L724.9 562.9 L726.3 565.5 L725.8 568.3 L725.1 570.0 L724.3 572.1 L721.9 572.9 L725.1 573.8 L724.0 577.3 L726.7 578.0 L725.2 580.8 L725.7 583.5 L726.9 586.2 L730.3 585.5 L732.6 585.7 L735.1 584.6 L732.1 585.1 L730.5 586.7 L730.5 589.7 L732.3 592.2 L731.6 594.9 L729.0 596.7 L726.2 596.3 L725.0 598.5 L722.6 599.1" stroke-width="1.15"/>
<path d="M712.2 540.8 L714.4 538.2 L716.1 535.1 L721.0 532.5 L723.1 535.7 L726.3 537.5 L726.4 540.8 L727.0 544.0 L724.7 546.2 L723.5 549.0 L726.3 552.8" stroke-width="1.15"/>
<path d="M786.6 587.3 L790.2 588.6 L793.8 589.7 L797.6 590.0 L798.4 593.3 L798.7 596.6 L798.6 600.0 L800.3 603.1 L800.2 606.5 L799.4 609.9 L798.9 613.4 L798.0 616.9 L796.8 620.2 L796.8 623.8 L795.7 626.8 L796.2 629.9 L795.2 632.9 L794.8 635.9 L795.5 639.1 L794.1 642.0 L793.6 645.0 L794.4 648.2 L794.5 651.3 L793.6 654.3 L791.2 656.8 L791.2 660.3 L788.4 662.5 L788.0 665.9 L786.0 668.4 L786.4 671.6 L785.9 674.6 L784.7 677.6 L785.3 680.7 L784.5 683.7 L783.7 686.7 L782.1 683.8 L780.3 680.9 L778.4 678.0 L775.5 675.9 L772.6 675.0 L769.9 673.1 L766.9 672.1 L763.8 671.4 L762.5 668.5 L760.7 665.9 L759.6 663.1 L757.8 660.6 L756.3 657.9 L755.8 654.7 L754.8 651.4 L755.0 647.9 L753.3 644.7 L753.3 641.1 L754.1 637.8 L755.9 634.8 L756.9 631.5 L759.1 628.7 L759.7 625.3 L761.9 622.5 L762.9 619.3 L763.8 616.0 L765.6 613.2 L767.2 610.3 L769.3 607.6 L769.9 604.2 L771.1 601.1 L773.2 598.4 L776.1 596.6 L778.7 594.2 L780.9 591.4 L783.6 589.1 L786.6 587.3" stroke-width="1.15"/>
<path d="M275.0 620.0 L277.7 624.9 L275.6 628.6 L272.5 631.2 L271.0 634.2 L269.1 637.0 L267.6 640.0 L269.9 643.0 L270.6 646.8 L272.4 650.0 L275.0 646.3 L278.1 647.0 L281.2 647.8 L284.2 648.9 L287.5 648.9 L288.4 651.8 L290.1 654.5 L291.3 657.5 L295.6 658.0 L300.0 659.0 L303.3 658.2 L306.6 657.7 L310.0 657.5 L314.0 658.9 L317.4 661.5 L319.5 664.7 L320.0 668.8 L318.1 672.3 L317.6 676.3 L314.9 679.3 L312.5 682.5 L313.5 686.2 L313.9 690.0" stroke-width="1.15"/>
<path d="M267.5 640.0 L271.1 638.8 L275.0 638.9 L278.3 637.6 L281.5 636.2 L284.1 633.4 L287.5 632.6 L290.7 633.2 L293.7 634.6 L296.9 635.4 L300.0 636.2 L303.2 637.8 L306.9 637.1 L310.0 638.9 L314.9 641.4 L317.5 638.1 L320.0 635.0 L323.7 634.0 L326.5 631.3 L330.0 630.1 L333.5 629.1 L336.6 627.3 L340.0 626.3 L342.4 623.0 L345.0 620.0" stroke-width="1.15"/>
<path d="M208.8 697.5 L211.6 699.7 L214.4 701.9 L217.5 703.7 L221.3 702.1 L225.0 700.0 L227.8 696.6 L231.3 693.8 L234.6 696.6 L237.4 700.1 L240.0 698.3 L242.7 697.0 L245.0 695.0 L246.7 697.9 L248.7 700.6 L250.1 703.7 L253.0 701.1 L255.0 697.5 L258.7 698.2 L262.5 698.8 L266.1 697.5 L269.0 695.0 L272.4 693.6 L275.3 692.1 L277.5 689.5 L280.0 687.6 L284.0 686.1 L287.6 683.9 L290.3 682.6 L292.1 679.8 L295.0 678.7 L297.2 681.1 L299.9 682.6 L302.2 680.3 L304.7 678.7 L307.4 677.4 L310.5 676.3 L313.7 676.2" stroke-width="1.15"/>
<path d="M313.8 690.0 L316.5 691.3 L319.6 691.7 L322.5 692.5 L326.4 692.5 L330.0 693.7 L332.7 695.3 L335.7 695.7 L338.8 696.2 L337.2 699.1 L335.2 701.6 L333.7 704.5 L332.6 707.6 L333.2 710.7 L334.6 713.7 L335.3 716.9 L336.4 720.0 L339.2 720.6 L342.2 721.4 L345.0 722.4 L348.0 724.0 L350.3 726.3 L352.5 728.8 L356.0 728.9 L359.3 729.9 L362.5 731.4 L365.8 730.5 L369.1 730.1 L372.5 729.9 L376.0 732.4 L380.1 733.6 L383.2 732.7 L386.3 731.4" stroke-width="1.15"/>
<path d="M386.2 731.2 L386.8 728.7 L389.1 727.9 L391.9 727.6 L392.6 725.1 L393.9 723.6 L394.9 721.4 L397.5 722.4 L398.9 723.9 L398.3 726.3 L400.3 727.4 L401.9 727.4 L403.6 728.8 L405.4 729.9 L407.5 728.5 L409.2 730.0 L409.7 732.1 L409.7 734.7 L412.8 734.7 L414.4 737.3 L416.2 736.0 L418.1 734.4 L420.0 735.2 L421.1 733.4 L422.1 731.4 L425.3 733.2 L426.2 731.1 L427.2 729.6 L427.9 727.9 L429.3 726.5 L429.7 728.2 L433.0 726.2 L433.2 729.4 L435.0 730.0 L436.8 731.5 L437.2 734.5 L440.1 734.9 L439.1 736.6 L436.4 737.0 L437.2 739.7 L436.0 741.0 L435.0 742.5 L433.1 744.3 L433.4 746.5 L433.4 748.7" stroke-width="1.15"/>
<path d="M440.0 725.0 L441.5 723.7 L442.3 721.4 L445.4 723.3 L446.8 721.9 L448.9 722.0 L450.2 720.3 L449.5 717.5 L450.9 716.3 L451.3 714.4 L455.3 714.8 L454.5 712.2 L456.0 709.8 L459.3 711.7 L460.8 710.0 L462.2 708.2 L463.9 707.1 L464.7 705.3 L464.3 703.1 L464.4 701.0 L467.3 701.4 L468.9 699.4 L471.1 699.4 L473.8 700.5 L475.2 697.9" stroke-width="1.15"/>
<path d="M386.2 731.2 L352.5 748.8" stroke-width="1"/>
<path d="M450.0 745.0 L452.5 745.5 L452.1 741.6 L454.1 741.3 L456.0 741.1 L457.1 739.4 L458.8 737.3 L454.9 737.2 L454.7 735.2 L457.2 734.6 L459.3 734.9 L460.6 738.2 L462.9 737.3 L465.0 737.5 L466.9 736.4 L468.2 734.0 L470.7 734.4 L473.6 736.1 L475.2 734.2" stroke-width="1.15"/>
<path d="M500.0 635.0 L499.7 638.2 L501.0 641.2 L501.4 644.3 L501.5 647.5 L499.9 650.8 L498.9 654.2 L497.5 657.5 L495.8 660.0 L494.1 662.4 L492.6 665.0 L490.8 668.2 L490.4 671.8 L488.6 674.9 L487.0 677.5 L486.0 680.4 L483.8 682.5 L484.3 686.3 L485.0 690.0 L482.4 692.4 L480.1 695.1 L475.0 696.4" stroke-width="1.15"/>
<path d="M475.0 625.0 L477.2 627.1 L480.2 628.1 L482.4 630.1 L482.6 633.8 L483.7 637.5 L486.6 636.6 L489.8 636.5 L492.5 635.0 L496.2 635.6 L500.0 634.8 L501.6 632.4 L503.5 630.1 L504.8 627.4 L504.9 623.7 L503.5 620.0" stroke-width="1.15"/>
<path d="M475.0 733.8 L477.2 733.4 L478.5 730.8 L481.7 733.4 L483.1 731.0 L485.2 730.4 L486.9 729.4 L489.0 729.5 L490.9 728.9 L492.4 727.2 L493.8 725.3 L497.0 727.1 L497.4 723.2 L500.3 724.3 L501.4 721.8 L503.1 720.7 L505.0 720.0 L507.6 721.6 L509.7 723.1 L511.2 720.2 L513.3 721.1 L514.9 719.7 L518.0 719.7 L519.0 717.3 L519.6 714.6 L522.8 715.3 L521.2 718.5 L524.8 718.3 L522.7 721.9 L525.2 722.3 L526.5 720.7 L528.9 721.6 L530.3 719.8 L532.5 720.1 L532.5 717.4 L536.5 718.1 L535.6 714.8 L537.9 714.1 L538.0 710.9 L541.8 711.4 L543.0 709.2 L544.2 710.0 L546.8 710.5 L546.7 713.1 L547.3 715.1 L548.1 712.6 L550.7 712.2 L550.6 709.1 L553.4 708.9 L555.2 707.7 L554.5 705.7 L555.6 703.8 L552.7 702.2 L556.0 700.2 L552.5 698.6 L556.2 696.5 L556.4 694.7 L556.0 692.9 L553.8 691.2 L555.6 690.2 L557.5 690.5 L559.4 692.5 L561.2 691.2 L560.4 693.9 L564.8 693.4 L564.1 695.9 L564.6 697.8 L564.0 699.1 L563.8 700.9 L565.4 703.3 L564.7 705.0 L562.8 706.3 L564.4 708.1 L566.2 707.9 L568.1 704.9 L570.0 708.3 L571.9 704.0 L573.8 706.7 L575.6 708.5 L577.5 705.5 L579.4 708.4 L581.2 707.0 L583.1 704.1 L585.0 706.0 L584.4 704.1 L583.2 702.0 L585.2 699.5 L583.3 697.6 L582.9 695.4 L580.1 696.5 L578.0 696.5 L577.5 693.7 L578.5 691.1 L581.4 692.1 L583.7 692.2 L585.1 690.1 L586.8 688.9 L587.7 686.1 L590.7 687.2 L592.2 685.7 L594.2 687.5 L596.8 685.8 L598.0 688.5 L600.1 688.5 L601.2 687.2 L603.4 687.4 L603.6 684.4 L605.1 683.4 L607.9 684.3 L609.6 683.6 L610.7 686.6 L612.6 687.3 L615.0 686.2 L616.4 683.9 L618.3 682.9 L621.6 685.7 L622.4 681.5 L625.0 682.5 L627.0 682.2 L628.6 679.7 L631.0 680.9 L632.6 678.9 L635.0 680.0 L637.0 679.3 L638.8 677.9 L640.5 676.4 L642.8 676.6 L644.9 675.9 L644.5 673.8 L646.0 672.6 L649.5 672.7 L649.0 670.3 L650.5 669.1 L649.1 666.0 L653.8 666.9 L653.0 664.2 L655.2 663.5 L655.1 661.3 L657.2 660.7 L657.6 657.7 L660.2 657.8 L660.5 654.7 L662.5 653.4 L664.5 652.0 L665.6 650.7 L667.1 649.5 L667.2 647.4 L670.6 647.5 L669.5 644.7 L669.9 642.9 L667.8 641.3 L668.9 638.9 L669.3 636.7 L667.8 634.9 L668.4 632.2 L670.7 632.0 L673.3 632.6 L675.3 631.9 L676.7 628.8 L679.1 631.3 L681.1 631.4 L683.2 631.7 L685.0 629.8 L687.3 630.2 L687.9 627.8 L690.6 628.7 L689.7 624.0 L692.9 625.5 L694.0 623.8 L695.6 622.9 L696.6 620.7 L698.6 620.6 L701.3 621.8 L702.6 620.2" stroke-width="1.15"/>
<path d="M660.0 657.5 L658.5 654.5 L657.9 651.3 L656.6 648.3 L656.1 645.0 L654.6 641.8 L653.5 638.4 L652.7 634.9 L651.5 631.3 L649.6 628.1 L647.5 625.0 L645.0 620.0" stroke-width="1.15"/>
<path d="M568.8 632.5 L571.6 634.8 L574.9 636.4 L578.5 634.9 L581.8 633.1 L584.9 631.1 L588.8 630.2 L592.6 628.9 L596.0 627.9 L598.9 625.6 L602.5 625.1 L605.1 626.5 L607.8 627.9 L609.9 630.2 L613.8 630.3 L617.5 630.1 L616.3 626.3 L616.4 622.5 L620.1 620.2" stroke-width="1.15"/>
<path d="M200.0 64.1 L210.0 64.8 L220.0 65.4 L230.0 66.0 L240.0 66.6 L250.0 67.1 L260.0 67.5 L270.0 67.9 L280.0 68.2 L290.0 68.5 L300.0 68.7 L310.0 68.9 L320.0 69.0 L330.0 69.1 L340.0 69.1 L350.0 69.1 L360.0 69.0 L370.0 68.9 L380.0 68.7 L390.0 68.4 L400.0 68.1 L410.0 67.8 L420.0 67.4 L430.0 67.0 L440.0 66.5 L450.0 65.9 L460.0 65.3 L470.0 64.7 L480.0 64.0 L490.0 63.2 L500.0 62.4 L510.0 61.6 L520.0 60.7 L530.0 59.7 L540.0 58.7 L550.0 57.6 L560.0 56.5 L570.0 55.3 L580.0 54.1 L590.0 52.8 L600.0 51.5 L610.0 50.1 L620.0 48.7 L630.0 47.2 L640.0 45.7 L650.0 44.1 L660.0 42.4 L670.0 40.7 L680.0 39.0 L690.0 37.2 L700.0 35.3 L710.0 33.4 L720.0 31.4 L730.0 29.4 L740.0 27.3 L750.0 25.2 L760.0 23.0 L770.0 20.7 L780.0 18.4 L790.0 16.1 L800.0 13.7 L810.0 11.2 L820.0 8.7 L830.0 6.1 L840.0 3.5 L850.0 0.8 L860.0 -2.0 L870.0 -4.8 L880.0 -7.7 L890.0 -10.6 L900.0 -13.6" stroke-width="1" stroke-dasharray="4.5 5"/>
<path d="M200.0 153.2 L210.0 153.9 L220.0 154.5 L230.0 155.1 L240.0 155.6 L250.0 156.0 L260.0 156.5 L270.0 156.8 L280.0 157.1 L290.0 157.4 L300.0 157.6 L310.0 157.8 L320.0 157.9 L330.0 158.0 L340.0 158.0 L350.0 158.0 L360.0 157.9 L370.0 157.8 L380.0 157.6 L390.0 157.4 L400.0 157.1 L410.0 156.8 L420.0 156.4 L430.0 156.0 L440.0 155.5 L450.0 155.0 L460.0 154.4 L470.0 153.8 L480.0 153.1 L490.0 152.4 L500.0 151.6 L510.0 150.8 L520.0 149.9 L530.0 149.0 L540.0 148.1 L550.0 147.0 L560.0 146.0 L570.0 144.9 L580.0 143.7 L590.0 142.5 L600.0 141.2 L610.0 139.9 L620.0 138.5 L630.0 137.1 L640.0 135.6 L650.0 134.1 L660.0 132.5 L670.0 130.9 L680.0 129.2 L690.0 127.5 L700.0 125.7 L710.0 123.9 L720.0 122.0 L730.0 120.1 L740.0 118.1 L750.0 116.0 L760.0 114.0 L770.0 111.8 L780.0 109.6 L790.0 107.4 L800.0 105.1 L810.0 102.7 L820.0 100.3 L830.0 97.8 L840.0 95.3 L850.0 92.8 L860.0 90.1 L870.0 87.4 L880.0 84.7 L890.0 81.9 L900.0 79.1" stroke-width="1" stroke-dasharray="4.5 5"/>
<path d="M200.0 242.3 L210.0 243.0 L220.0 243.5 L230.0 244.1 L240.0 244.6 L250.0 245.0 L260.0 245.4 L270.0 245.8 L280.0 246.1 L290.0 246.3 L300.0 246.5 L310.0 246.7 L320.0 246.8 L330.0 246.9 L340.0 246.9 L350.0 246.9 L360.0 246.8 L370.0 246.7 L380.0 246.5 L390.0 246.3 L400.0 246.0 L410.0 245.7 L420.0 245.4 L430.0 245.0 L440.0 244.5 L450.0 244.0 L460.0 243.5 L470.0 242.9 L480.0 242.2 L490.0 241.5 L500.0 240.8 L510.0 240.0 L520.0 239.2 L530.0 238.3 L540.0 237.4 L550.0 236.4 L560.0 235.4 L570.0 234.3 L580.0 233.2 L590.0 232.0 L600.0 230.8 L610.0 229.5 L620.0 228.2 L630.0 226.9 L640.0 225.5 L650.0 224.0 L660.0 222.5 L670.0 220.9 L680.0 219.3 L690.0 217.7 L700.0 216.0 L710.0 214.2 L720.0 212.4 L730.0 210.6 L740.0 208.7 L750.0 206.7 L760.0 204.7 L770.0 202.7 L780.0 200.6 L790.0 198.4 L800.0 196.2 L810.0 194.0 L820.0 191.7 L830.0 189.3 L840.0 186.9 L850.0 184.5 L860.0 182.0 L870.0 179.4 L880.0 176.8 L890.0 174.1 L900.0 171.4" stroke-width="1" stroke-dasharray="4.5 5"/>
<path d="M200.0 331.4 L210.0 332.0 L220.0 332.6 L230.0 333.1 L240.0 333.6 L250.0 334.0 L260.0 334.4 L270.0 334.7 L280.0 335.0 L290.0 335.3 L300.0 335.5 L310.0 335.6 L320.0 335.7 L330.0 335.8 L340.0 335.8 L350.0 335.8 L360.0 335.7 L370.0 335.6 L380.0 335.4 L390.0 335.2 L400.0 335.0 L410.0 334.7 L420.0 334.3 L430.0 333.9 L440.0 333.5 L450.0 333.0 L460.0 332.5 L470.0 331.9 L480.0 331.3 L490.0 330.6 L500.0 329.9 L510.0 329.2 L520.0 328.4 L530.0 327.5 L540.0 326.7 L550.0 325.7 L560.0 324.7 L570.0 323.7 L580.0 322.6 L590.0 321.5 L600.0 320.4 L610.0 319.1 L620.0 317.9 L630.0 316.6 L640.0 315.2 L650.0 313.8 L660.0 312.4 L670.0 310.9 L680.0 309.4 L690.0 307.8 L700.0 306.1 L710.0 304.5 L720.0 302.7 L730.0 301.0 L740.0 299.1 L750.0 297.3 L760.0 295.4 L770.0 293.4 L780.0 291.4 L790.0 289.3 L800.0 287.2 L810.0 285.1 L820.0 282.9 L830.0 280.6 L840.0 278.3 L850.0 276.0 L860.0 273.6 L870.0 271.1 L880.0 268.6 L890.0 266.1 L900.0 263.5" stroke-width="1" stroke-dasharray="4.5 5"/>
<path d="M200.0 419.9 L210.0 420.6 L220.0 421.3 L230.0 421.9 L240.0 422.4 L250.0 422.9 L260.0 423.4 L270.0 423.8 L280.0 424.2 L290.0 424.5 L300.0 424.8 L310.0 425.0 L320.0 425.2 L330.0 425.3 L340.0 425.4 L350.0 425.4 L360.0 425.4 L370.0 425.4 L380.0 425.3 L390.0 425.1 L400.0 424.9 L410.0 424.7 L420.0 424.4 L430.0 424.1 L440.0 423.7 L450.0 423.3 L460.0 422.8 L470.0 422.3 L480.0 421.7 L490.0 421.1 L500.0 420.4 L510.0 419.7 L520.0 419.0 L530.0 418.2 L540.0 417.3 L550.0 416.4 L560.0 415.5 L570.0 414.5 L580.0 413.4 L590.0 412.4 L600.0 411.2 L610.0 410.0 L620.0 408.8 L630.0 407.5 L640.0 406.2 L650.0 404.8 L660.0 403.4 L670.0 401.9 L680.0 400.4 L690.0 398.8 L700.0 397.2 L710.0 395.6 L720.0 393.8 L730.0 392.1 L740.0 390.3 L750.0 388.4 L760.0 386.5 L770.0 384.5 L780.0 382.5 L790.0 380.5 L800.0 378.4 L810.0 376.2 L820.0 374.0 L830.0 371.7 L840.0 369.4 L850.0 367.1 L860.0 364.7 L870.0 362.2 L880.0 359.7 L890.0 357.1 L900.0 354.5" stroke-width="1" stroke-dasharray="4.5 5"/>
<path d="M200.0 508.8 L210.0 509.5 L220.0 510.1 L230.0 510.7 L240.0 511.2 L250.0 511.7 L260.0 512.2 L270.0 512.6 L280.0 512.9 L290.0 513.2 L300.0 513.5 L310.0 513.7 L320.0 513.9 L330.0 514.1 L340.0 514.2 L350.0 514.2 L360.0 514.2 L370.0 514.2 L380.0 514.1 L390.0 514.0 L400.0 513.8 L410.0 513.6 L420.0 513.4 L430.0 513.1 L440.0 512.8 L450.0 512.4 L460.0 511.9 L470.0 511.5 L480.0 511.0 L490.0 510.4 L500.0 509.8 L510.0 509.2 L520.0 508.5 L530.0 507.7 L540.0 507.0 L550.0 506.2 L560.0 505.3 L570.0 504.4 L580.0 503.4 L590.0 502.4 L600.0 501.4 L610.0 500.3 L620.0 499.2 L630.0 498.0 L640.0 496.8 L650.0 495.5 L660.0 494.2 L670.0 492.9 L680.0 491.5 L690.0 490.0 L700.0 488.6 L710.0 487.0 L720.0 485.5 L730.0 483.8 L740.0 482.2 L750.0 480.5 L760.0 478.7 L770.0 476.9 L780.0 475.1 L790.0 473.2 L800.0 471.2 L810.0 469.2 L820.0 467.2 L830.0 465.1 L840.0 463.0 L850.0 460.8 L860.0 458.6 L870.0 456.3 L880.0 454.0 L890.0 451.7 L900.0 449.3" stroke-width="1" stroke-dasharray="4.5 5"/>
<path d="M200.0 597.7 L210.0 598.4 L220.0 599.0 L230.0 599.6 L240.0 600.1 L250.0 600.6 L260.0 601.1 L270.0 601.5 L280.0 601.8 L290.0 602.1 L300.0 602.4 L310.0 602.7 L320.0 602.9 L330.0 603.0 L340.0 603.2 L350.0 603.2 L360.0 603.3 L370.0 603.3 L380.0 603.2 L390.0 603.1 L400.0 603.0 L410.0 602.8 L420.0 602.6 L430.0 602.3 L440.0 602.1 L450.0 601.7 L460.0 601.3 L470.0 600.9 L480.0 600.5 L490.0 600.0 L500.0 599.4 L510.0 598.8 L520.0 598.2 L530.0 597.5 L540.0 596.8 L550.0 596.1 L560.0 595.3 L570.0 594.4 L580.0 593.5 L590.0 592.6 L600.0 591.7 L610.0 590.7 L620.0 589.6 L630.0 588.5 L640.0 587.4 L650.0 586.2 L660.0 585.0 L670.0 583.8 L680.0 582.5 L690.0 581.1 L700.0 579.7 L710.0 578.3 L720.0 576.8 L730.0 575.3 L740.0 573.8 L750.0 572.2 L760.0 570.5 L770.0 568.8 L780.0 567.1 L790.0 565.4 L800.0 563.5 L810.0 561.7 L820.0 559.8 L830.0 557.8 L840.0 555.8 L850.0 553.8 L860.0 551.7 L870.0 549.6 L880.0 547.5 L890.0 545.2 L900.0 543.0" stroke-width="1" stroke-dasharray="4.5 5"/>
<path d="M200.0 686.7 L210.0 687.3 L220.0 687.7 L230.0 688.2 L240.0 688.6 L250.0 689.0 L260.0 689.3 L270.0 689.6 L280.0 689.9 L290.0 690.1 L300.0 690.3 L310.0 690.4 L320.0 690.6 L330.0 690.6 L340.0 690.7 L350.0 690.7 L360.0 690.7 L370.0 690.6 L380.0 690.5 L390.0 690.4 L400.0 690.2 L410.0 690.0 L420.0 689.7 L430.0 689.4 L440.0 689.1 L450.0 688.8 L460.0 688.4 L470.0 687.9 L480.0 687.5 L490.0 687.0 L500.0 686.4 L510.0 685.8 L520.0 685.2 L530.0 684.6 L540.0 683.9 L550.0 683.2 L560.0 682.4 L570.0 681.6 L580.0 680.8 L590.0 679.9 L600.0 679.0 L610.0 678.1 L620.0 677.1 L630.0 676.1 L640.0 675.0 L650.0 673.9 L660.0 672.8 L670.0 671.6 L680.0 670.4 L690.0 669.2 L700.0 667.9 L710.0 666.6 L720.0 665.2 L730.0 663.8 L740.0 662.4 L750.0 660.9 L760.0 659.4 L770.0 657.9 L780.0 656.3 L790.0 654.7 L800.0 653.0 L810.0 651.3 L820.0 649.6 L830.0 647.8 L840.0 646.0 L850.0 644.2 L860.0 642.3 L870.0 640.4 L880.0 638.4 L890.0 636.4 L900.0 634.4" stroke-width="1" stroke-dasharray="4.5 5"/>
<path d="M252.5 50.0 L216.0 750.0" stroke-width="1.5" stroke-dasharray="2 7.4"/>
<path d="M322.0 50.0 L313.5 750.0" stroke-width="1.5" stroke-dasharray="2 7.4"/>
<path d="M391.5 50.0 L411.0 750.0" stroke-width="1.5" stroke-dasharray="2 7.4"/>
<path d="M461.0 50.0 L508.5 750.0" stroke-width="1.5" stroke-dasharray="2 7.4"/>
<path d="M530.5 50.0 L606.0 750.0" stroke-width="1.5" stroke-dasharray="2 7.4"/>
<path d="M600.0 50.0 L703.5 750.0" stroke-width="1.5" stroke-dasharray="2 7.4"/>
<path d="M669.5 50.0 L801.0 750.0" stroke-width="1.5" stroke-dasharray="2 7.4"/>
<path d="M739.0 50.0 L898.5 750.0" stroke-width="1.5" stroke-dasharray="2 7.4"/>
<path d="M808.5 50.0 L996.0 750.0" stroke-width="1.5" stroke-dasharray="2 7.4"/>
<path d="M878.0 50.0 L1093.5 750.0" stroke-width="1.5" stroke-dasharray="2 7.4"/>
</g>
<g clip-path="url(#mapclip)" fill="none" stroke="#8200dc" stroke-width="1.7">
<circle cx="734.0" cy="95.0" r="5"/>
<circle cx="459.0" cy="159.5" r="5"/>
<circle cx="578.0" cy="176.0" r="5"/>
<circle cx="600.5" cy="197.0" r="5"/>
<circle cx="327.0" cy="232.0" r="5"/>
<circle cx="537.0" cy="236.0" r="5"/>
<circle cx="487.0" cy="245.0" r="5"/>
<circle cx="605.0" cy="271.0" r="5"/>
<circle cx="259.0" cy="303.0" r="5"/>
<circle cx="523.5" cy="335.0" r="5"/>
<circle cx="398.0" cy="356.0" r="5"/>
<circle cx="631.0" cy="410.5" r="5"/>
<circle cx="671.5" cy="399.7" r="5"/>
<circle cx="748.7" cy="411.6" r="5"/>
<circle cx="719.0" cy="446.0" r="5"/>
<circle cx="553.7" cy="459.0" r="5"/>
<circle cx="261.5" cy="462.0" r="5"/>
<circle cx="332.0" cy="496.7" r="5"/>
<circle cx="605.0" cy="508.0" r="5"/>
<circle cx="522.0" cy="530.0" r="5"/>
<circle cx="714.7" cy="573.0" r="5"/>
<circle cx="337.0" cy="585.0" r="5"/>
<circle cx="213.6" cy="627.0" r="5"/>
<circle cx="542.0" cy="678.8" r="5"/>
<circle cx="387.6" cy="695.0" r="5"/>
</g>
<rect x="207" y="49.5" width="685.5" height="700" fill="none" stroke="#000" stroke-width="2" shape-rendering="crispEdges"/>
<g stroke="#000" stroke-width="1" shape-rendering="crispEdges">
<line x1="197" y1="64.5" x2="207" y2="64.5"/>
<line x1="197" y1="153.5" x2="207" y2="153.5"/>
<line x1="197" y1="242.5" x2="207" y2="242.5"/>
<line x1="197" y1="331.5" x2="207" y2="331.5"/>
<line x1="197" y1="420.5" x2="207" y2="420.5"/>
<line x1="197" y1="509.5" x2="207" y2="509.5"/>
<line x1="197" y1="598.5" x2="207" y2="598.5"/>
<line x1="197" y1="687.5" x2="207" y2="687.5"/>
<line x1="216.5" y1="750" x2="216.5" y2="760.5"/>
<line x1="314.5" y1="750" x2="314.5" y2="760.5"/>
<line x1="411.5" y1="750" x2="411.5" y2="760.5"/>
<line x1="508.5" y1="750" x2="508.5" y2="760.5"/>
<line x1="606.5" y1="750" x2="606.5" y2="760.5"/>
<line x1="703.5" y1="750" x2="703.5" y2="760.5"/>
<line x1="801.5" y1="750" x2="801.5" y2="760.5"/>
<line x1="892.5" y1="750" x2="892.5" y2="760.5"/>
</g>
<text class="ax" x="146" y="70.8" textLength="45" lengthAdjust="spacingAndGlyphs">44°N</text>
<text class="ax" x="146" y="159.8" textLength="45" lengthAdjust="spacingAndGlyphs">41°N</text>
<text class="ax" x="146" y="248.8" textLength="45" lengthAdjust="spacingAndGlyphs">38°N</text>
<text class="ax" x="146" y="337.8" textLength="45" lengthAdjust="spacingAndGlyphs">35°N</text>
<text class="ax" x="146" y="426.8" textLength="45" lengthAdjust="spacingAndGlyphs">32°N</text>
<text class="ax" x="146" y="515.8" textLength="45" lengthAdjust="spacingAndGlyphs">29°N</text>
<text class="ax" x="146" y="604.8" textLength="45" lengthAdjust="spacingAndGlyphs">26°N</text>
<text class="ax" x="146" y="693.8" textLength="45" lengthAdjust="spacingAndGlyphs">23°N</text>
<text class="ax" x="198.0" y="782.8" textLength="55.5" lengthAdjust="spacingAndGlyphs">103°E</text>
<text class="ax" x="296.0" y="782.8" textLength="55.5" lengthAdjust="spacingAndGlyphs">106°E</text>
<text class="ax" x="393.0" y="782.8" textLength="55.5" lengthAdjust="spacingAndGlyphs">109°E</text>
<text class="ax" x="490.0" y="782.8" textLength="55.5" lengthAdjust="spacingAndGlyphs">112°E</text>
<text class="ax" x="588.0" y="782.8" textLength="55.5" lengthAdjust="spacingAndGlyphs">115°E</text>
<text class="ax" x="685.0" y="782.8" textLength="55.5" lengthAdjust="spacingAndGlyphs">118°E</text>
<text class="ax" x="783.0" y="782.8" textLength="55.5" lengthAdjust="spacingAndGlyphs">121°E</text>
<text class="ax" x="874.0" y="782.8" textLength="55.5" lengthAdjust="spacingAndGlyphs">124°E</text>
<g font-size="24.5" fill="#000">
<text x="171.1" y="34" textLength="53.8" lengthAdjust="spacingAndGlyphs">2025</text>
<text x="228.5" y="34.2" font-size="24" textLength="23.0" lengthAdjust="spacingAndGlyphs">年</text>
<text x="252.7" y="34" textLength="24.1" lengthAdjust="spacingAndGlyphs">10</text>
<text x="280.4" y="34.2" font-size="24" textLength="19.2" lengthAdjust="spacingAndGlyphs">月</text>
<text x="307.8" y="34" textLength="24.4" lengthAdjust="spacingAndGlyphs">14</text>
<text x="337.6" y="34.2" font-size="24" textLength="15.7" lengthAdjust="spacingAndGlyphs">日</text>
<text x="357.4" y="34" textLength="42.5" lengthAdjust="spacingAndGlyphs">WRF</text>
<text x="401.9" y="34" textLength="13.4" lengthAdjust="spacingAndGlyphs">/</text>
<text x="417.4" y="34" textLength="64.3" lengthAdjust="spacingAndGlyphs">cmaq</text>
<text x="482.6" y="34.2" font-size="24" textLength="21.1" lengthAdjust="spacingAndGlyphs">模</text>
<text x="503.5" y="34.2" font-size="24" textLength="23.0" lengthAdjust="spacingAndGlyphs">式</text>
<text x="532.8" y="34" textLength="62.5" lengthAdjust="spacingAndGlyphs">12km</text>
<text x="596.3" y="34.2" font-size="24" textLength="21.1" lengthAdjust="spacingAndGlyphs">预</text>
<text x="619.0" y="34.2" font-size="24" textLength="22.9" lengthAdjust="spacingAndGlyphs">报</text>
<text x="643.5" y="34.2" font-size="24" textLength="23.0" lengthAdjust="spacingAndGlyphs">产</text>
<text x="669.0" y="34.2" font-size="24" textLength="19.3" lengthAdjust="spacingAndGlyphs">品</text>
<text x="691.2" y="34" textLength="7.0" lengthAdjust="spacingAndGlyphs">:</text>
<text x="702.8" y="34" textLength="24.4" lengthAdjust="spacingAndGlyphs">10</text>
<text x="730.8" y="34.2" font-size="24" textLength="19.3" lengthAdjust="spacingAndGlyphs">月</text>
<text x="758.3" y="34" textLength="24.3" lengthAdjust="spacingAndGlyphs">14</text>
<text x="788.1" y="34.2" font-size="24" textLength="13.8" lengthAdjust="spacingAndGlyphs">日</text>
<text x="806.5" y="34" textLength="25.2" lengthAdjust="spacingAndGlyphs">04</text>
<text x="836.3" y="34.2" font-size="24" textLength="20.2" lengthAdjust="spacingAndGlyphs">时</text>
</g>
<text x="870" y="34" font-size="24.5" fill="#fa3c3c" textLength="114.5" lengthAdjust="spacingAndGlyphs">PRIMARY</text>
<g font-size="19.5" fill="#000">
<text x="360" y="810" textLength="88" lengthAdjust="spacing">版权所有:</text>
<text x="452" y="810" textLength="78" lengthAdjust="spacing">南京大学</text>
<text x="545.5" y="810" textLength="196" lengthAdjust="spacing">南京创蓝科技有限公司</text>
</g>
<line x1="534.5" x2="534.5" y1="791" y2="818" stroke="#000" stroke-width="1" shape-rendering="crispEdges"/>
<g shape-rendering="crispEdges">
<rect x="956.5" y="249.50" width="40.0" height="50.00" fill="#ffff00"/>
<rect x="956.5" y="299.50" width="40.0" height="50.00" fill="#ffff00"/>
<rect x="956.5" y="349.50" width="40.0" height="50.00" fill="#7e0023"/>
<rect x="956.5" y="399.50" width="40.0" height="50.00" fill="#cc0070"/>
<rect x="956.5" y="449.50" width="40.0" height="50.00" fill="#ff0000"/>
<rect x="956.5" y="499.50" width="40.0" height="50.00" fill="#ff7e00"/>
<rect x="956.5" y="549.50" width="40.0" height="50.00" fill="#00e400"/>
<line x1="956.5" x2="996.5" y1="300.5" y2="300.5" stroke="#000" stroke-width="1"/>
<line x1="956.5" x2="996.5" y1="350.5" y2="350.5" stroke="#000" stroke-width="1"/>
<line x1="956.5" x2="996.5" y1="400.5" y2="400.5" stroke="#000" stroke-width="1"/>
<line x1="956.5" x2="996.5" y1="450.5" y2="450.5" stroke="#000" stroke-width="1"/>
<line x1="956.5" x2="996.5" y1="500.5" y2="500.5" stroke="#000" stroke-width="1"/>
<line x1="956.5" x2="996.5" y1="550.5" y2="550.5" stroke="#000" stroke-width="1"/>
<rect x="956.5" y="249.5" width="40.0" height="350.0" fill="none" stroke="#000" stroke-width="1"/>
</g>
<text class="lg" x="1002" y="283.5" textLength="70" lengthAdjust="spacingAndGlyphs">o3_8h</text>
<text class="lg" x="1002" y="333.5" textLength="70" lengthAdjust="spacingAndGlyphs">o3_1h</text>
<text class="lg" x="1002" y="383.5" textLength="62" lengthAdjust="spacingAndGlyphs">pm10</text>
<text class="lg" x="1002" y="433.5" textLength="72" lengthAdjust="spacingAndGlyphs">pm2.5</text>
<text class="lg" x="1002" y="483.5" textLength="26" lengthAdjust="spacingAndGlyphs">co</text>
<text class="lg" x="1002" y="533.5" textLength="40" lengthAdjust="spacingAndGlyphs">no2</text>
<text class="lg" x="1002" y="583.5" textLength="40" lengthAdjust="spacingAndGlyphs">so2</text>
</svg></body></html>
